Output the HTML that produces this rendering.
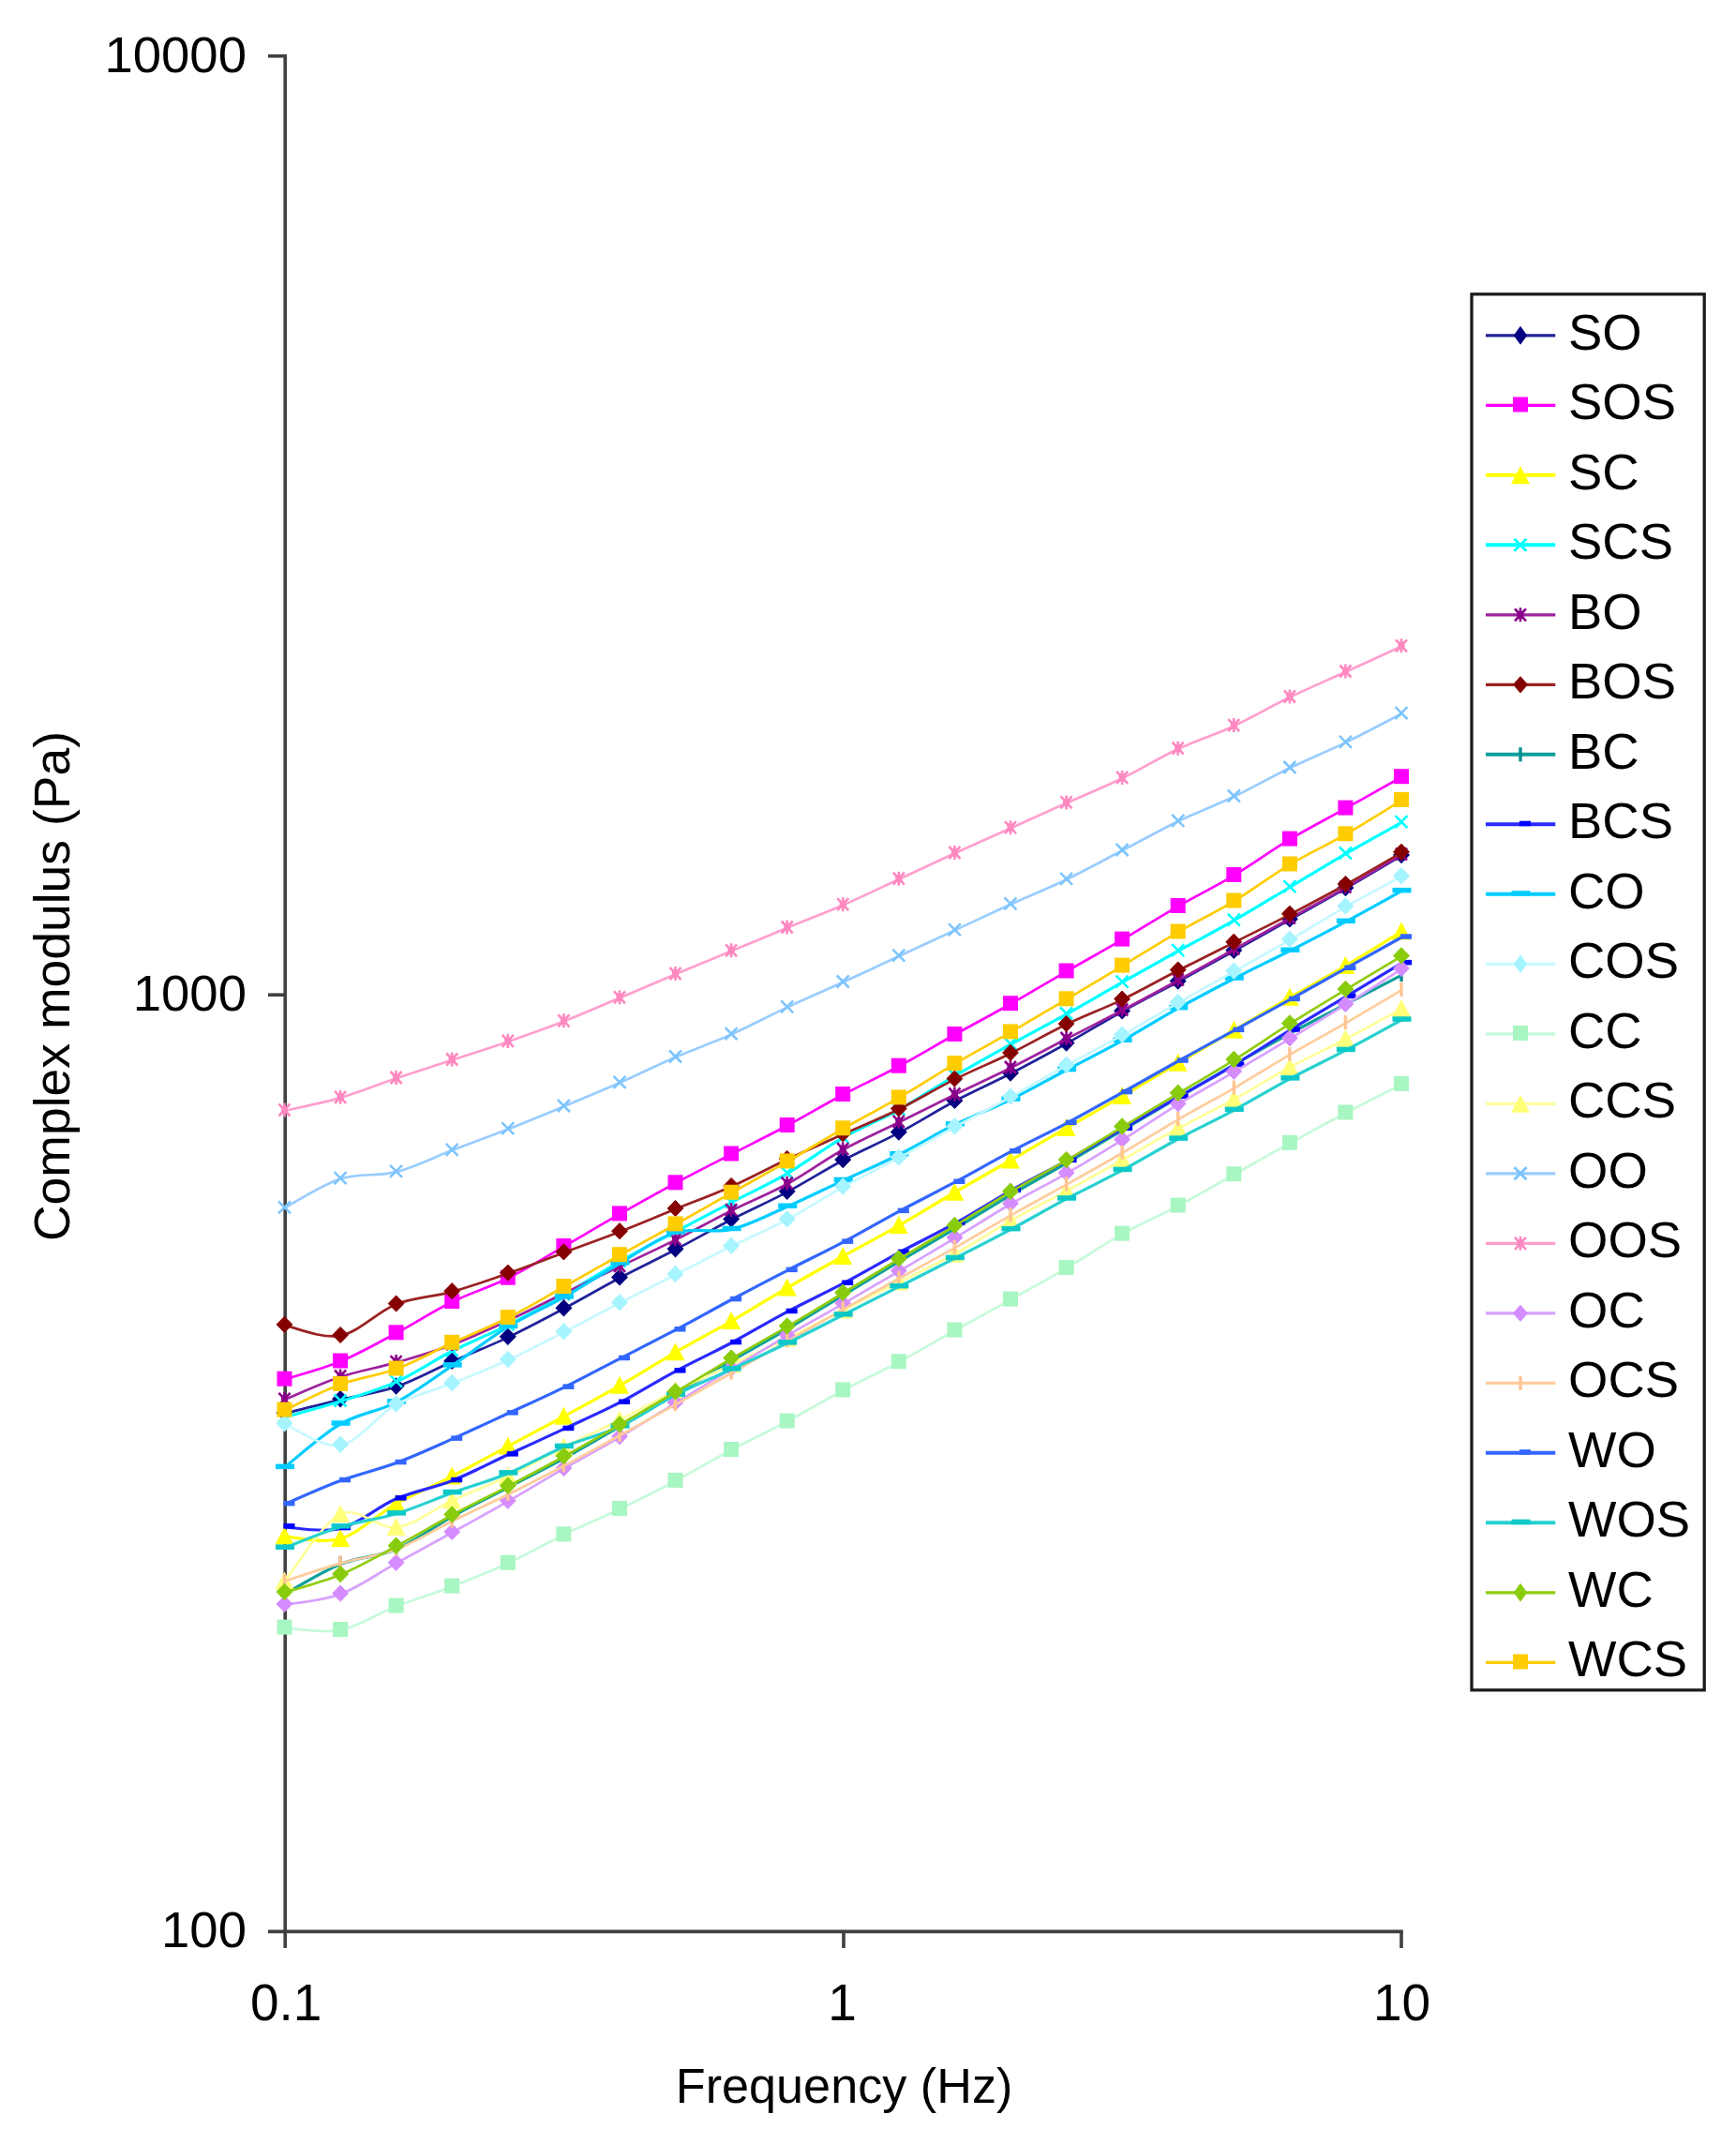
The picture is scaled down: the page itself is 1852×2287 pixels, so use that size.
<!DOCTYPE html>
<html lang="en"><head><meta charset="utf-8"><title>Complex modulus vs frequency</title>
<style>html,body{margin:0;padding:0;background:#fff}body{width:1852px;height:2287px;overflow:hidden}svg{display:block}text{font-family:"Liberation Sans", Arial, Helvetica, sans-serif;font-size:54.5px;fill:#000}</style>
</head><body>
<svg width="1852" height="2287" viewBox="0 0 1852 2287">
<rect width="1852" height="2287" fill="#fff"/>
<g stroke="#404040" stroke-width="3.6" fill="none">
<path d="M304.2,58 V2078"/>
<path d="M286,2060.4 H1496.8"/>
<path d="M286,59.8 H304.2"/>
<path d="M286,1061.2 H304.2"/>
<path d="M900,2060.4 V2078"/>
<path d="M1495,2060.4 V2078"/>
</g>
<defs><filter id="soft" x="0" y="0" width="1852" height="2287" filterUnits="userSpaceOnUse"><feGaussianBlur stdDeviation="0.65"/></filter></defs>
<g fill="none" stroke-linejoin="round" stroke-linecap="butt" filter="url(#soft)">
<g>
<path d="M303.5,1507.8C313.4,1505.3 343.2,1497.8 363.1,1493.1C382.9,1488.3 402.8,1486.1 422.6,1479.3C442.5,1472.5 462.4,1461.3 482.2,1452.5C502.1,1443.7 521.9,1436 541.8,1426.6C561.7,1417.2 581.5,1406.6 601.4,1396C621.2,1385.4 641.1,1373.7 661,1363.2C680.8,1352.7 700.7,1343.4 720.5,1333C740.4,1322.6 760.2,1311.2 780.1,1301C800,1290.8 819.8,1282.1 839.7,1271.6C859.5,1261.1 879.4,1248.3 899.2,1237.8C919.1,1227.3 939,1218.9 958.8,1208.4C978.7,1197.9 998.5,1185.2 1018.4,1174.7C1038.3,1164.2 1058.1,1155.5 1078,1145.3C1097.8,1135.1 1117.7,1124.3 1137.6,1113.3C1157.4,1102.2 1177.3,1090 1197.1,1079C1217,1068 1236.8,1058 1256.7,1047.3C1276.6,1036.5 1296.4,1025.5 1316.3,1014.5C1336.1,1003.5 1356,992.2 1375.9,981.1C1395.7,970 1415.6,959.2 1435.4,947.8C1455.3,936.4 1485.1,918.6 1495,912.8" stroke="#20209A" stroke-width="2.7" fill="none"/>
<path d="M303.5,1497.8 l9.0,9.2 l-9.0,9.2 l-9.0,-9.2z" fill="#000080"/>
<path d="M363.1,1483.1 l9.0,9.2 l-9.0,9.2 l-9.0,-9.2z" fill="#000080"/>
<path d="M422.6,1469.3 l9.0,9.2 l-9.0,9.2 l-9.0,-9.2z" fill="#000080"/>
<path d="M482.2,1442.5 l9.0,9.2 l-9.0,9.2 l-9.0,-9.2z" fill="#000080"/>
<path d="M541.8,1416.6 l9.0,9.2 l-9.0,9.2 l-9.0,-9.2z" fill="#000080"/>
<path d="M601.4,1386 l9.0,9.2 l-9.0,9.2 l-9.0,-9.2z" fill="#000080"/>
<path d="M661,1353.2 l9.0,9.2 l-9.0,9.2 l-9.0,-9.2z" fill="#000080"/>
<path d="M720.5,1323 l9.0,9.2 l-9.0,9.2 l-9.0,-9.2z" fill="#000080"/>
<path d="M780.1,1291 l9.0,9.2 l-9.0,9.2 l-9.0,-9.2z" fill="#000080"/>
<path d="M839.7,1261.6 l9.0,9.2 l-9.0,9.2 l-9.0,-9.2z" fill="#000080"/>
<path d="M899.2,1227.8 l9.0,9.2 l-9.0,9.2 l-9.0,-9.2z" fill="#000080"/>
<path d="M958.8,1198.4 l9.0,9.2 l-9.0,9.2 l-9.0,-9.2z" fill="#000080"/>
<path d="M1018.4,1164.7 l9.0,9.2 l-9.0,9.2 l-9.0,-9.2z" fill="#000080"/>
<path d="M1078,1135.3 l9.0,9.2 l-9.0,9.2 l-9.0,-9.2z" fill="#000080"/>
<path d="M1137.6,1103.3 l9.0,9.2 l-9.0,9.2 l-9.0,-9.2z" fill="#000080"/>
<path d="M1197.1,1069 l9.0,9.2 l-9.0,9.2 l-9.0,-9.2z" fill="#000080"/>
<path d="M1256.7,1037.3 l9.0,9.2 l-9.0,9.2 l-9.0,-9.2z" fill="#000080"/>
<path d="M1316.3,1004.5 l9.0,9.2 l-9.0,9.2 l-9.0,-9.2z" fill="#000080"/>
<path d="M1375.9,971.1 l9.0,9.2 l-9.0,9.2 l-9.0,-9.2z" fill="#000080"/>
<path d="M1435.4,937.8 l9.0,9.2 l-9.0,9.2 l-9.0,-9.2z" fill="#000080"/>
<path d="M1495,902.8 l9.0,9.2 l-9.0,9.2 l-9.0,-9.2z" fill="#000080"/>
</g>
<g>
<path d="M303.5,1471.5C313.4,1468.3 343.2,1460.5 363.1,1452.3C382.9,1444.1 402.8,1432.7 422.6,1422.1C442.5,1411.5 462.4,1398.6 482.2,1388.8C502.1,1379 521.9,1373.3 541.8,1363.5C561.7,1353.7 581.5,1341.2 601.4,1329.8C621.2,1318.4 641.1,1306.5 661,1295.2C680.8,1283.9 700.7,1272.8 720.5,1262.1C740.4,1251.4 760.2,1241.5 780.1,1231.3C800,1221.1 819.8,1211.4 839.7,1200.8C859.5,1190.2 879.4,1178.3 899.2,1167.8C919.1,1157.2 939,1148.2 958.8,1137.5C978.7,1126.8 998.5,1114.9 1018.4,1103.8C1038.3,1092.7 1058.1,1082.2 1078,1071C1097.8,1059.8 1117.7,1047.7 1137.6,1036.3C1157.4,1024.9 1177.3,1014 1197.1,1002.4C1217,990.8 1236.8,978.2 1256.7,966.8C1276.6,955.4 1296.4,945.7 1316.3,933.8C1336.1,921.9 1356,907.3 1375.9,895.4C1395.7,883.5 1415.6,873.5 1435.4,862.4C1455.3,851.3 1485.1,834.6 1495,829" stroke="#FF00FF" stroke-width="2.7" fill="none"/>
<rect x="295.5" y="1462.7" width="16" height="16" fill="#FF00FF"/>
<rect x="355.1" y="1443.5" width="16" height="16" fill="#FF00FF"/>
<rect x="414.6" y="1413.3" width="16" height="16" fill="#FF00FF"/>
<rect x="474.2" y="1380" width="16" height="16" fill="#FF00FF"/>
<rect x="533.8" y="1354.7" width="16" height="16" fill="#FF00FF"/>
<rect x="593.4" y="1321" width="16" height="16" fill="#FF00FF"/>
<rect x="653" y="1286.4" width="16" height="16" fill="#FF00FF"/>
<rect x="712.5" y="1253.3" width="16" height="16" fill="#FF00FF"/>
<rect x="772.1" y="1222.5" width="16" height="16" fill="#FF00FF"/>
<rect x="831.7" y="1192" width="16" height="16" fill="#FF00FF"/>
<rect x="891.2" y="1159" width="16" height="16" fill="#FF00FF"/>
<rect x="950.8" y="1128.7" width="16" height="16" fill="#FF00FF"/>
<rect x="1010.4" y="1095" width="16" height="16" fill="#FF00FF"/>
<rect x="1070" y="1062.2" width="16" height="16" fill="#FF00FF"/>
<rect x="1129.6" y="1027.5" width="16" height="16" fill="#FF00FF"/>
<rect x="1189.1" y="993.6" width="16" height="16" fill="#FF00FF"/>
<rect x="1248.7" y="958" width="16" height="16" fill="#FF00FF"/>
<rect x="1308.3" y="925" width="16" height="16" fill="#FF00FF"/>
<rect x="1367.9" y="886.6" width="16" height="16" fill="#FF00FF"/>
<rect x="1427.4" y="853.6" width="16" height="16" fill="#FF00FF"/>
<rect x="1487" y="820.2" width="16" height="16" fill="#FF00FF"/>
</g>
<g>
<path d="M303.5,1638.8C313.4,1639.2 343.2,1647.1 363.1,1641.3C382.9,1635.5 402.8,1615.3 422.6,1604.2C442.5,1593.1 462.4,1585 482.2,1574.8C502.1,1564.6 521.9,1553.4 541.8,1542.8C561.7,1532.2 581.5,1521.8 601.4,1511C621.2,1500.2 641.1,1489.5 661,1478.1C680.8,1466.7 700.7,1454.1 720.5,1442.6C740.4,1431.1 760.2,1420.8 780.1,1409.3C800,1397.8 819.8,1385.3 839.7,1373.8C859.5,1362.3 879.4,1351.3 899.2,1340.2C919.1,1329.1 939,1318.8 958.8,1307.4C978.7,1296 998.5,1283.6 1018.4,1272C1038.3,1260.4 1058.1,1249.2 1078,1237.8C1097.8,1226.3 1117.7,1214.7 1137.6,1203.3C1157.4,1191.9 1177.3,1180.9 1197.1,1169.4C1217,1157.9 1236.8,1145.8 1256.7,1134.1C1276.6,1122.4 1296.4,1110.8 1316.3,1099.1C1336.1,1087.4 1356,1075.6 1375.9,1064.1C1395.7,1052.6 1415.6,1042 1435.4,1030.3C1455.3,1018.6 1485.1,999.9 1495,993.8" stroke="#FFFF00" stroke-width="3.2" fill="none"/>
<path d="M303.5,1628.5 l10,19 h-20z" fill="#FFFF00"/>
<path d="M363.1,1631 l10,19 h-20z" fill="#FFFF00"/>
<path d="M422.6,1593.9 l10,19 h-20z" fill="#FFFF00"/>
<path d="M482.2,1564.5 l10,19 h-20z" fill="#FFFF00"/>
<path d="M541.8,1532.5 l10,19 h-20z" fill="#FFFF00"/>
<path d="M601.4,1500.7 l10,19 h-20z" fill="#FFFF00"/>
<path d="M661,1467.8 l10,19 h-20z" fill="#FFFF00"/>
<path d="M720.5,1432.3 l10,19 h-20z" fill="#FFFF00"/>
<path d="M780.1,1399 l10,19 h-20z" fill="#FFFF00"/>
<path d="M839.7,1363.5 l10,19 h-20z" fill="#FFFF00"/>
<path d="M899.2,1329.9 l10,19 h-20z" fill="#FFFF00"/>
<path d="M958.8,1297.1 l10,19 h-20z" fill="#FFFF00"/>
<path d="M1018.4,1261.7 l10,19 h-20z" fill="#FFFF00"/>
<path d="M1078,1227.5 l10,19 h-20z" fill="#FFFF00"/>
<path d="M1137.6,1193 l10,19 h-20z" fill="#FFFF00"/>
<path d="M1197.1,1159.1 l10,19 h-20z" fill="#FFFF00"/>
<path d="M1256.7,1123.8 l10,19 h-20z" fill="#FFFF00"/>
<path d="M1316.3,1088.8 l10,19 h-20z" fill="#FFFF00"/>
<path d="M1375.9,1053.8 l10,19 h-20z" fill="#FFFF00"/>
<path d="M1435.4,1020 l10,19 h-20z" fill="#FFFF00"/>
<path d="M1495,983.5 l10,19 h-20z" fill="#FFFF00"/>
</g>
<g>
<path d="M303.5,1511.8C313.4,1509 343.2,1501.1 363.1,1494.8C382.9,1488.5 402.8,1483 422.6,1474.1C442.5,1465.2 462.4,1451.4 482.2,1441.3C502.1,1431.2 521.9,1423.6 541.8,1413.6C561.7,1403.6 581.5,1392.7 601.4,1381.4C621.2,1370.1 641.1,1357.1 661,1345.8C680.8,1334.5 700.7,1324.3 720.5,1313.8C740.4,1303.3 760.2,1293.1 780.1,1282.8C800,1272.5 819.8,1263.3 839.7,1251.8C859.5,1240.3 879.4,1224.9 899.2,1213.6C919.1,1202.3 939,1194.8 958.8,1183.8C978.7,1172.8 998.5,1159.4 1018.4,1147.8C1038.3,1136.2 1058.1,1125.2 1078,1114.2C1097.8,1103.2 1117.7,1092.8 1137.6,1081.8C1157.4,1070.8 1177.3,1059.1 1197.1,1047.9C1217,1036.7 1236.8,1025.5 1256.7,1014.5C1276.6,1003.5 1296.4,993.3 1316.3,982C1336.1,970.7 1356,958.4 1375.9,946.5C1395.7,934.6 1415.6,922.3 1435.4,910.8C1455.3,899.3 1485.1,883 1495,877.4" stroke="#00FFFF" stroke-width="3.2" fill="none"/>
<path d="M297,1504.5 l13,13 m0,-13 l-13,13" stroke="#00FFFF" stroke-width="2.5" fill="none"/>
<path d="M356.6,1487.5 l13,13 m0,-13 l-13,13" stroke="#00FFFF" stroke-width="2.5" fill="none"/>
<path d="M416.1,1466.8 l13,13 m0,-13 l-13,13" stroke="#00FFFF" stroke-width="2.5" fill="none"/>
<path d="M475.7,1434 l13,13 m0,-13 l-13,13" stroke="#00FFFF" stroke-width="2.5" fill="none"/>
<path d="M535.3,1406.3 l13,13 m0,-13 l-13,13" stroke="#00FFFF" stroke-width="2.5" fill="none"/>
<path d="M594.9,1374.1 l13,13 m0,-13 l-13,13" stroke="#00FFFF" stroke-width="2.5" fill="none"/>
<path d="M654.5,1338.5 l13,13 m0,-13 l-13,13" stroke="#00FFFF" stroke-width="2.5" fill="none"/>
<path d="M714,1306.5 l13,13 m0,-13 l-13,13" stroke="#00FFFF" stroke-width="2.5" fill="none"/>
<path d="M773.6,1275.5 l13,13 m0,-13 l-13,13" stroke="#00FFFF" stroke-width="2.5" fill="none"/>
<path d="M833.2,1244.5 l13,13 m0,-13 l-13,13" stroke="#00FFFF" stroke-width="2.5" fill="none"/>
<path d="M892.7,1206.3 l13,13 m0,-13 l-13,13" stroke="#00FFFF" stroke-width="2.5" fill="none"/>
<path d="M952.3,1176.5 l13,13 m0,-13 l-13,13" stroke="#00FFFF" stroke-width="2.5" fill="none"/>
<path d="M1011.9,1140.5 l13,13 m0,-13 l-13,13" stroke="#00FFFF" stroke-width="2.5" fill="none"/>
<path d="M1071.5,1106.9 l13,13 m0,-13 l-13,13" stroke="#00FFFF" stroke-width="2.5" fill="none"/>
<path d="M1131.1,1074.5 l13,13 m0,-13 l-13,13" stroke="#00FFFF" stroke-width="2.5" fill="none"/>
<path d="M1190.6,1040.6 l13,13 m0,-13 l-13,13" stroke="#00FFFF" stroke-width="2.5" fill="none"/>
<path d="M1250.2,1007.2 l13,13 m0,-13 l-13,13" stroke="#00FFFF" stroke-width="2.5" fill="none"/>
<path d="M1309.8,974.7 l13,13 m0,-13 l-13,13" stroke="#00FFFF" stroke-width="2.5" fill="none"/>
<path d="M1369.4,939.2 l13,13 m0,-13 l-13,13" stroke="#00FFFF" stroke-width="2.5" fill="none"/>
<path d="M1428.9,903.5 l13,13 m0,-13 l-13,13" stroke="#00FFFF" stroke-width="2.5" fill="none"/>
<path d="M1488.5,870.1 l13,13 m0,-13 l-13,13" stroke="#00FFFF" stroke-width="2.5" fill="none"/>
</g>
<g>
<path d="M303.5,1493.1C313.4,1489 343.2,1475.4 363.1,1468.8C382.9,1462.2 402.8,1459.1 422.6,1453.4C442.5,1447.7 462.4,1441.8 482.2,1434.4C502.1,1427 521.9,1417.9 541.8,1408.8C561.7,1399.7 581.5,1389.4 601.4,1379.8C621.2,1370.2 641.1,1360.6 661,1351.1C680.8,1341.6 700.7,1332.5 720.5,1322.6C740.4,1312.7 760.2,1301.4 780.1,1291.5C800,1281.6 819.8,1273.8 839.7,1263C859.5,1252.2 879.4,1237.5 899.2,1226.5C919.1,1215.5 939,1207 958.8,1197.2C978.7,1187.4 998.5,1177.5 1018.4,1167.8C1038.3,1158.1 1058.1,1149.2 1078,1139.3C1097.8,1129.4 1117.7,1118.5 1137.6,1108.3C1157.4,1098 1177.3,1088.2 1197.1,1077.8C1217,1067.4 1236.8,1056.6 1256.7,1045.8C1276.6,1035 1296.4,1023.8 1316.3,1012.8C1336.1,1001.8 1356,990.8 1375.9,979.8C1395.7,968.8 1415.6,958.1 1435.4,946.8C1455.3,935.5 1485.1,917.6 1495,911.8" stroke="#9E209E" stroke-width="2.7" fill="none"/>
<path d="M297.5,1485.8 l12,13 m0,-13 l-12,13 M303.5,1484.8 v15" stroke="#8A008A" stroke-width="2.6" fill="none"/><rect x="300" y="1488.3" width="7" height="8" fill="#8A008A"/>
<path d="M357.1,1461.5 l12,13 m0,-13 l-12,13 M363.1,1460.5 v15" stroke="#8A008A" stroke-width="2.6" fill="none"/><rect x="359.6" y="1464" width="7" height="8" fill="#8A008A"/>
<path d="M416.6,1446.1 l12,13 m0,-13 l-12,13 M422.6,1445.1 v15" stroke="#8A008A" stroke-width="2.6" fill="none"/><rect x="419.1" y="1448.6" width="7" height="8" fill="#8A008A"/>
<path d="M476.2,1427.1 l12,13 m0,-13 l-12,13 M482.2,1426.1 v15" stroke="#8A008A" stroke-width="2.6" fill="none"/><rect x="478.7" y="1429.6" width="7" height="8" fill="#8A008A"/>
<path d="M535.8,1401.5 l12,13 m0,-13 l-12,13 M541.8,1400.5 v15" stroke="#8A008A" stroke-width="2.6" fill="none"/><rect x="538.3" y="1404" width="7" height="8" fill="#8A008A"/>
<path d="M595.4,1372.5 l12,13 m0,-13 l-12,13 M601.4,1371.5 v15" stroke="#8A008A" stroke-width="2.6" fill="none"/><rect x="597.9" y="1375" width="7" height="8" fill="#8A008A"/>
<path d="M655,1343.8 l12,13 m0,-13 l-12,13 M661,1342.8 v15" stroke="#8A008A" stroke-width="2.6" fill="none"/><rect x="657.5" y="1346.3" width="7" height="8" fill="#8A008A"/>
<path d="M714.5,1315.3 l12,13 m0,-13 l-12,13 M720.5,1314.3 v15" stroke="#8A008A" stroke-width="2.6" fill="none"/><rect x="717" y="1317.8" width="7" height="8" fill="#8A008A"/>
<path d="M774.1,1284.2 l12,13 m0,-13 l-12,13 M780.1,1283.2 v15" stroke="#8A008A" stroke-width="2.6" fill="none"/><rect x="776.6" y="1286.7" width="7" height="8" fill="#8A008A"/>
<path d="M833.7,1255.7 l12,13 m0,-13 l-12,13 M839.7,1254.7 v15" stroke="#8A008A" stroke-width="2.6" fill="none"/><rect x="836.2" y="1258.2" width="7" height="8" fill="#8A008A"/>
<path d="M893.2,1219.2 l12,13 m0,-13 l-12,13 M899.2,1218.2 v15" stroke="#8A008A" stroke-width="2.6" fill="none"/><rect x="895.7" y="1221.7" width="7" height="8" fill="#8A008A"/>
<path d="M952.8,1189.9 l12,13 m0,-13 l-12,13 M958.8,1188.9 v15" stroke="#8A008A" stroke-width="2.6" fill="none"/><rect x="955.3" y="1192.4" width="7" height="8" fill="#8A008A"/>
<path d="M1012.4,1160.5 l12,13 m0,-13 l-12,13 M1018.4,1159.5 v15" stroke="#8A008A" stroke-width="2.6" fill="none"/><rect x="1014.9" y="1163" width="7" height="8" fill="#8A008A"/>
<path d="M1072,1132 l12,13 m0,-13 l-12,13 M1078,1131 v15" stroke="#8A008A" stroke-width="2.6" fill="none"/><rect x="1074.5" y="1134.5" width="7" height="8" fill="#8A008A"/>
<path d="M1131.6,1101 l12,13 m0,-13 l-12,13 M1137.6,1100 v15" stroke="#8A008A" stroke-width="2.6" fill="none"/><rect x="1134.1" y="1103.5" width="7" height="8" fill="#8A008A"/>
<path d="M1191.1,1070.5 l12,13 m0,-13 l-12,13 M1197.1,1069.5 v15" stroke="#8A008A" stroke-width="2.6" fill="none"/><rect x="1193.6" y="1073" width="7" height="8" fill="#8A008A"/>
<path d="M1250.7,1038.5 l12,13 m0,-13 l-12,13 M1256.7,1037.5 v15" stroke="#8A008A" stroke-width="2.6" fill="none"/><rect x="1253.2" y="1041" width="7" height="8" fill="#8A008A"/>
<path d="M1310.3,1005.5 l12,13 m0,-13 l-12,13 M1316.3,1004.5 v15" stroke="#8A008A" stroke-width="2.6" fill="none"/><rect x="1312.8" y="1008" width="7" height="8" fill="#8A008A"/>
<path d="M1369.9,972.5 l12,13 m0,-13 l-12,13 M1375.9,971.5 v15" stroke="#8A008A" stroke-width="2.6" fill="none"/><rect x="1372.4" y="975" width="7" height="8" fill="#8A008A"/>
<path d="M1429.4,939.5 l12,13 m0,-13 l-12,13 M1435.4,938.5 v15" stroke="#8A008A" stroke-width="2.6" fill="none"/><rect x="1431.9" y="942" width="7" height="8" fill="#8A008A"/>
<path d="M1489,904.5 l12,13 m0,-13 l-12,13 M1495,903.5 v15" stroke="#8A008A" stroke-width="2.6" fill="none"/><rect x="1491.5" y="907" width="7" height="8" fill="#8A008A"/>
</g>
<g>
<path d="M303.5,1413.6C313.4,1415.5 343.2,1428.5 363.1,1424.8C382.9,1421.1 402.8,1399.1 422.6,1391.3C442.5,1383.5 462.4,1383.5 482.2,1378C502.1,1372.5 521.9,1365.4 541.8,1358.4C561.7,1351.4 581.5,1343.6 601.4,1336.2C621.2,1328.8 641.1,1321.7 661,1314C680.8,1306.3 700.7,1297.8 720.5,1289.8C740.4,1281.8 760.2,1274.6 780.1,1265.8C800,1257 819.8,1246.1 839.7,1236.8C859.5,1227.5 879.4,1219 899.2,1210.1C919.1,1201.2 939,1193.1 958.8,1183.3C978.7,1173.5 998.5,1161.3 1018.4,1151.4C1038.3,1141.5 1058.1,1133.5 1078,1123.7C1097.8,1113.9 1117.7,1102.3 1137.6,1092.8C1157.4,1083.2 1177.3,1076 1197.1,1066.4C1217,1056.8 1236.8,1045.4 1256.7,1035.3C1276.6,1025.2 1296.4,1015.5 1316.3,1005.5C1336.1,995.5 1356,985.9 1375.9,975.6C1395.7,965.3 1415.6,954.8 1435.4,943.8C1455.3,932.8 1485.1,915.3 1495,909.6" stroke="#9A2020" stroke-width="2.7" fill="none"/>
<path d="M303.5,1404.2 l8.4,8.6 l-8.4,8.6 l-8.4,-8.6z" fill="#850000" stroke="#850000" stroke-width="1" stroke-linejoin="round"/>
<path d="M363.1,1415.4 l8.4,8.6 l-8.4,8.6 l-8.4,-8.6z" fill="#850000" stroke="#850000" stroke-width="1" stroke-linejoin="round"/>
<path d="M422.6,1381.9 l8.4,8.6 l-8.4,8.6 l-8.4,-8.6z" fill="#850000" stroke="#850000" stroke-width="1" stroke-linejoin="round"/>
<path d="M482.2,1368.6 l8.4,8.6 l-8.4,8.6 l-8.4,-8.6z" fill="#850000" stroke="#850000" stroke-width="1" stroke-linejoin="round"/>
<path d="M541.8,1349 l8.4,8.6 l-8.4,8.6 l-8.4,-8.6z" fill="#850000" stroke="#850000" stroke-width="1" stroke-linejoin="round"/>
<path d="M601.4,1326.8 l8.4,8.6 l-8.4,8.6 l-8.4,-8.6z" fill="#850000" stroke="#850000" stroke-width="1" stroke-linejoin="round"/>
<path d="M661,1304.6 l8.4,8.6 l-8.4,8.6 l-8.4,-8.6z" fill="#850000" stroke="#850000" stroke-width="1" stroke-linejoin="round"/>
<path d="M720.5,1280.4 l8.4,8.6 l-8.4,8.6 l-8.4,-8.6z" fill="#850000" stroke="#850000" stroke-width="1" stroke-linejoin="round"/>
<path d="M780.1,1256.4 l8.4,8.6 l-8.4,8.6 l-8.4,-8.6z" fill="#850000" stroke="#850000" stroke-width="1" stroke-linejoin="round"/>
<path d="M839.7,1227.4 l8.4,8.6 l-8.4,8.6 l-8.4,-8.6z" fill="#850000" stroke="#850000" stroke-width="1" stroke-linejoin="round"/>
<path d="M899.2,1200.7 l8.4,8.6 l-8.4,8.6 l-8.4,-8.6z" fill="#850000" stroke="#850000" stroke-width="1" stroke-linejoin="round"/>
<path d="M958.8,1173.9 l8.4,8.6 l-8.4,8.6 l-8.4,-8.6z" fill="#850000" stroke="#850000" stroke-width="1" stroke-linejoin="round"/>
<path d="M1018.4,1142 l8.4,8.6 l-8.4,8.6 l-8.4,-8.6z" fill="#850000" stroke="#850000" stroke-width="1" stroke-linejoin="round"/>
<path d="M1078,1114.3 l8.4,8.6 l-8.4,8.6 l-8.4,-8.6z" fill="#850000" stroke="#850000" stroke-width="1" stroke-linejoin="round"/>
<path d="M1137.6,1083.4 l8.4,8.6 l-8.4,8.6 l-8.4,-8.6z" fill="#850000" stroke="#850000" stroke-width="1" stroke-linejoin="round"/>
<path d="M1197.1,1057 l8.4,8.6 l-8.4,8.6 l-8.4,-8.6z" fill="#850000" stroke="#850000" stroke-width="1" stroke-linejoin="round"/>
<path d="M1256.7,1025.9 l8.4,8.6 l-8.4,8.6 l-8.4,-8.6z" fill="#850000" stroke="#850000" stroke-width="1" stroke-linejoin="round"/>
<path d="M1316.3,996.1 l8.4,8.6 l-8.4,8.6 l-8.4,-8.6z" fill="#850000" stroke="#850000" stroke-width="1" stroke-linejoin="round"/>
<path d="M1375.9,966.2 l8.4,8.6 l-8.4,8.6 l-8.4,-8.6z" fill="#850000" stroke="#850000" stroke-width="1" stroke-linejoin="round"/>
<path d="M1435.4,934.4 l8.4,8.6 l-8.4,8.6 l-8.4,-8.6z" fill="#850000" stroke="#850000" stroke-width="1" stroke-linejoin="round"/>
<path d="M1495,900.2 l8.4,8.6 l-8.4,8.6 l-8.4,-8.6z" fill="#850000" stroke="#850000" stroke-width="1" stroke-linejoin="round"/>
</g>
<g>
<path d="M303.5,1700.5C313.4,1695.2 343.2,1676.5 363.1,1668.5C382.9,1660.5 402.8,1661.2 422.6,1652.8C442.5,1644.3 462.4,1628.8 482.2,1617.8C502.1,1606.8 521.9,1597.1 541.8,1586.8C561.7,1576.5 581.5,1566.6 601.4,1555.8C621.2,1545 641.1,1533.3 661,1521.8C680.8,1510.3 700.7,1498.5 720.5,1486.8C740.4,1475.1 760.2,1463.3 780.1,1451.8C800,1440.3 819.8,1429.5 839.7,1417.8C859.5,1406.1 879.4,1393.8 899.2,1381.8C919.1,1369.8 939,1357.6 958.8,1345.8C978.7,1334 998.5,1322.6 1018.4,1310.8C1038.3,1299 1058.1,1286.5 1078,1274.8C1097.8,1263.1 1117.7,1252.3 1137.6,1240.8C1157.4,1229.3 1177.3,1217.5 1197.1,1205.8C1217,1194.1 1236.8,1182.5 1256.7,1170.8C1276.6,1159.1 1296.4,1147.2 1316.3,1135.8C1336.1,1124.4 1356,1113.2 1375.9,1102.5C1395.7,1091.8 1415.6,1081.8 1435.4,1071.4C1455.3,1061 1485.1,1045.5 1495,1040.3" stroke="#10A09C" stroke-width="3.2" fill="none"/>
<path d="M303.5,1692.2 v15" stroke="#009090" stroke-width="3.4" fill="none"/>
<path d="M363.1,1660.2 v15" stroke="#009090" stroke-width="3.4" fill="none"/>
<path d="M422.6,1644.5 v15" stroke="#009090" stroke-width="3.4" fill="none"/>
<path d="M482.2,1609.5 v15" stroke="#009090" stroke-width="3.4" fill="none"/>
<path d="M541.8,1578.5 v15" stroke="#009090" stroke-width="3.4" fill="none"/>
<path d="M601.4,1547.5 v15" stroke="#009090" stroke-width="3.4" fill="none"/>
<path d="M661,1513.5 v15" stroke="#009090" stroke-width="3.4" fill="none"/>
<path d="M720.5,1478.5 v15" stroke="#009090" stroke-width="3.4" fill="none"/>
<path d="M780.1,1443.5 v15" stroke="#009090" stroke-width="3.4" fill="none"/>
<path d="M839.7,1409.5 v15" stroke="#009090" stroke-width="3.4" fill="none"/>
<path d="M899.2,1373.5 v15" stroke="#009090" stroke-width="3.4" fill="none"/>
<path d="M958.8,1337.5 v15" stroke="#009090" stroke-width="3.4" fill="none"/>
<path d="M1018.4,1302.5 v15" stroke="#009090" stroke-width="3.4" fill="none"/>
<path d="M1078,1266.5 v15" stroke="#009090" stroke-width="3.4" fill="none"/>
<path d="M1137.6,1232.5 v15" stroke="#009090" stroke-width="3.4" fill="none"/>
<path d="M1197.1,1197.5 v15" stroke="#009090" stroke-width="3.4" fill="none"/>
<path d="M1256.7,1162.5 v15" stroke="#009090" stroke-width="3.4" fill="none"/>
<path d="M1316.3,1127.5 v15" stroke="#009090" stroke-width="3.4" fill="none"/>
<path d="M1375.9,1094.2 v15" stroke="#009090" stroke-width="3.4" fill="none"/>
<path d="M1435.4,1063.1 v15" stroke="#009090" stroke-width="3.4" fill="none"/>
<path d="M1495,1032 v15" stroke="#009090" stroke-width="3.4" fill="none"/>
</g>
<g>
<path d="M303.5,1628.8C313.4,1629.1 343.2,1635.5 363.1,1630.5C382.9,1625.5 402.8,1607.3 422.6,1598.8C442.5,1590.3 462.4,1587.3 482.2,1579.5C502.1,1571.7 521.9,1561 541.8,1551.8C561.7,1542.6 581.5,1533.7 601.4,1524.4C621.2,1515.1 641.1,1506.5 661,1496.2C680.8,1485.9 700.7,1473.4 720.5,1462.8C740.4,1452.2 760.2,1443.1 780.1,1432.5C800,1421.9 819.8,1409.9 839.7,1399.4C859.5,1388.8 879.4,1379.7 899.2,1369.2C919.1,1358.7 939,1347 958.8,1336.3C978.7,1325.6 998.5,1316.2 1018.4,1305.2C1038.3,1294.2 1058.1,1281.5 1078,1270.3C1097.8,1259.1 1117.7,1249.3 1137.6,1238.3C1157.4,1227.3 1177.3,1215.6 1197.1,1204.3C1217,1193 1236.8,1181.6 1256.7,1170.3C1276.6,1159 1296.4,1148.2 1316.3,1136.3C1336.1,1124.4 1356,1111.2 1375.9,1099C1395.7,1086.8 1415.6,1075.2 1435.4,1063.3C1455.3,1051.4 1485.1,1033.5 1495,1027.6" stroke="#2A2AFF" stroke-width="3.2" fill="none"/>
<rect x="302.5" y="1625.1" width="12" height="5.5" fill="#0000FF"/>
<rect x="362.1" y="1626.8" width="12" height="5.5" fill="#0000FF"/>
<rect x="421.6" y="1595.1" width="12" height="5.5" fill="#0000FF"/>
<rect x="481.2" y="1575.8" width="12" height="5.5" fill="#0000FF"/>
<rect x="540.8" y="1548.1" width="12" height="5.5" fill="#0000FF"/>
<rect x="600.4" y="1520.7" width="12" height="5.5" fill="#0000FF"/>
<rect x="660" y="1492.5" width="12" height="5.5" fill="#0000FF"/>
<rect x="719.5" y="1459.1" width="12" height="5.5" fill="#0000FF"/>
<rect x="779.1" y="1428.8" width="12" height="5.5" fill="#0000FF"/>
<rect x="838.7" y="1395.7" width="12" height="5.5" fill="#0000FF"/>
<rect x="898.2" y="1365.5" width="12" height="5.5" fill="#0000FF"/>
<rect x="957.8" y="1332.6" width="12" height="5.5" fill="#0000FF"/>
<rect x="1017.4" y="1301.5" width="12" height="5.5" fill="#0000FF"/>
<rect x="1077" y="1266.6" width="12" height="5.5" fill="#0000FF"/>
<rect x="1136.6" y="1234.6" width="12" height="5.5" fill="#0000FF"/>
<rect x="1196.1" y="1200.6" width="12" height="5.5" fill="#0000FF"/>
<rect x="1255.7" y="1166.6" width="12" height="5.5" fill="#0000FF"/>
<rect x="1315.3" y="1132.6" width="12" height="5.5" fill="#0000FF"/>
<rect x="1374.9" y="1095.3" width="12" height="5.5" fill="#0000FF"/>
<rect x="1434.4" y="1059.6" width="12" height="5.5" fill="#0000FF"/>
<rect x="1494" y="1023.9" width="12" height="5.5" fill="#0000FF"/>
</g>
<g>
<path d="M303.5,1565.3C313.4,1557.6 343.2,1530.6 363.1,1519C382.9,1507.4 402.8,1506.2 422.6,1495.8C442.5,1485.4 462.4,1470.2 482.2,1456.8C502.1,1443.4 521.9,1427.6 541.8,1415.4C561.7,1403.2 581.5,1395.1 601.4,1383.8C621.2,1372.5 641.1,1359.3 661,1347.8C680.8,1336.3 700.7,1320.9 720.5,1314.8C740.4,1308.7 760.2,1316 780.1,1311.4C800,1306.8 819.8,1295.9 839.7,1287.2C859.5,1278.5 879.4,1268.6 899.2,1259.4C919.1,1250.1 939,1241.6 958.8,1231.7C978.7,1221.8 998.5,1209.6 1018.4,1199.8C1038.3,1190 1058.1,1182.7 1078,1173C1097.8,1163.3 1117.7,1152 1137.6,1141.5C1157.4,1131 1177.3,1121.2 1197.1,1110.2C1217,1099.2 1236.8,1086.6 1256.7,1075.6C1276.6,1064.6 1296.4,1054.2 1316.3,1044C1336.1,1033.8 1356,1024.3 1375.9,1014.2C1395.7,1004.1 1415.6,993.9 1435.4,983.3C1455.3,972.7 1485.1,956 1495,950.6" stroke="#00CCFF" stroke-width="3.2" fill="none"/>
<rect x="294" y="1561.6" width="20" height="5.5" fill="#00CCFF"/>
<rect x="353.6" y="1515.3" width="20" height="5.5" fill="#00CCFF"/>
<rect x="413.1" y="1492.1" width="20" height="5.5" fill="#00CCFF"/>
<rect x="472.7" y="1453.1" width="20" height="5.5" fill="#00CCFF"/>
<rect x="532.3" y="1411.7" width="20" height="5.5" fill="#00CCFF"/>
<rect x="591.9" y="1380.1" width="20" height="5.5" fill="#00CCFF"/>
<rect x="651.5" y="1344.1" width="20" height="5.5" fill="#00CCFF"/>
<rect x="711" y="1311.1" width="20" height="5.5" fill="#00CCFF"/>
<rect x="770.6" y="1307.7" width="20" height="5.5" fill="#00CCFF"/>
<rect x="830.2" y="1283.5" width="20" height="5.5" fill="#00CCFF"/>
<rect x="889.7" y="1255.7" width="20" height="5.5" fill="#00CCFF"/>
<rect x="949.3" y="1228" width="20" height="5.5" fill="#00CCFF"/>
<rect x="1008.9" y="1196.1" width="20" height="5.5" fill="#00CCFF"/>
<rect x="1068.5" y="1169.3" width="20" height="5.5" fill="#00CCFF"/>
<rect x="1128.1" y="1137.8" width="20" height="5.5" fill="#00CCFF"/>
<rect x="1187.6" y="1106.5" width="20" height="5.5" fill="#00CCFF"/>
<rect x="1247.2" y="1071.9" width="20" height="5.5" fill="#00CCFF"/>
<rect x="1306.8" y="1040.3" width="20" height="5.5" fill="#00CCFF"/>
<rect x="1366.4" y="1010.5" width="20" height="5.5" fill="#00CCFF"/>
<rect x="1425.9" y="979.6" width="20" height="5.5" fill="#00CCFF"/>
<rect x="1485.5" y="946.9" width="20" height="5.5" fill="#00CCFF"/>
</g>
<g>
<path d="M303.5,1519C313.4,1522.8 343.2,1545 363.1,1541.5C382.9,1538 402.8,1509.2 422.6,1498.3C442.5,1487.3 462.4,1483.7 482.2,1475.8C502.1,1467.9 521.9,1459.9 541.8,1450.8C561.7,1441.7 581.5,1431.2 601.4,1421.1C621.2,1411 641.1,1400.2 661,1390C680.8,1379.8 700.7,1369.9 720.5,1359.8C740.4,1349.7 760.2,1339.3 780.1,1329.5C800,1319.7 819.8,1311.5 839.7,1301C859.5,1290.5 879.4,1277.3 899.2,1266.3C919.1,1255.3 939,1245.9 958.8,1235.2C978.7,1224.5 998.5,1213.1 1018.4,1202.3C1038.3,1191.5 1058.1,1181.4 1078,1170.4C1097.8,1159.4 1117.7,1147.5 1137.6,1136.5C1157.4,1125.5 1177.3,1115.5 1197.1,1104.4C1217,1093.3 1236.8,1081.1 1256.7,1069.8C1276.6,1058.5 1296.4,1047.6 1316.3,1036.4C1336.1,1025.2 1356,1014.2 1375.9,1002.7C1395.7,991.2 1415.6,978.6 1435.4,967.3C1455.3,956 1485.1,940.4 1495,935" stroke="#C6F9FF" stroke-width="2.7" fill="none"/>
<path d="M303.5,1509 l9.0,9.2 l-9.0,9.2 l-9.0,-9.2z" fill="#A6F4FF"/>
<path d="M363.1,1531.5 l9.0,9.2 l-9.0,9.2 l-9.0,-9.2z" fill="#A6F4FF"/>
<path d="M422.6,1488.3 l9.0,9.2 l-9.0,9.2 l-9.0,-9.2z" fill="#A6F4FF"/>
<path d="M482.2,1465.8 l9.0,9.2 l-9.0,9.2 l-9.0,-9.2z" fill="#A6F4FF"/>
<path d="M541.8,1440.8 l9.0,9.2 l-9.0,9.2 l-9.0,-9.2z" fill="#A6F4FF"/>
<path d="M601.4,1411.1 l9.0,9.2 l-9.0,9.2 l-9.0,-9.2z" fill="#A6F4FF"/>
<path d="M661,1380 l9.0,9.2 l-9.0,9.2 l-9.0,-9.2z" fill="#A6F4FF"/>
<path d="M720.5,1349.8 l9.0,9.2 l-9.0,9.2 l-9.0,-9.2z" fill="#A6F4FF"/>
<path d="M780.1,1319.5 l9.0,9.2 l-9.0,9.2 l-9.0,-9.2z" fill="#A6F4FF"/>
<path d="M839.7,1291 l9.0,9.2 l-9.0,9.2 l-9.0,-9.2z" fill="#A6F4FF"/>
<path d="M899.2,1256.3 l9.0,9.2 l-9.0,9.2 l-9.0,-9.2z" fill="#A6F4FF"/>
<path d="M958.8,1225.2 l9.0,9.2 l-9.0,9.2 l-9.0,-9.2z" fill="#A6F4FF"/>
<path d="M1018.4,1192.3 l9.0,9.2 l-9.0,9.2 l-9.0,-9.2z" fill="#A6F4FF"/>
<path d="M1078,1160.4 l9.0,9.2 l-9.0,9.2 l-9.0,-9.2z" fill="#A6F4FF"/>
<path d="M1137.6,1126.5 l9.0,9.2 l-9.0,9.2 l-9.0,-9.2z" fill="#A6F4FF"/>
<path d="M1197.1,1094.4 l9.0,9.2 l-9.0,9.2 l-9.0,-9.2z" fill="#A6F4FF"/>
<path d="M1256.7,1059.8 l9.0,9.2 l-9.0,9.2 l-9.0,-9.2z" fill="#A6F4FF"/>
<path d="M1316.3,1026.4 l9.0,9.2 l-9.0,9.2 l-9.0,-9.2z" fill="#A6F4FF"/>
<path d="M1375.9,992.7 l9.0,9.2 l-9.0,9.2 l-9.0,-9.2z" fill="#A6F4FF"/>
<path d="M1435.4,957.3 l9.0,9.2 l-9.0,9.2 l-9.0,-9.2z" fill="#A6F4FF"/>
<path d="M1495,925 l9.0,9.2 l-9.0,9.2 l-9.0,-9.2z" fill="#A6F4FF"/>
</g>
<g>
<path d="M303.5,1736.4C313.4,1736.8 343.2,1742.6 363.1,1738.8C382.9,1735 402.8,1721.1 422.6,1713.4C442.5,1705.7 462.4,1700 482.2,1692.4C502.1,1684.8 521.9,1676.8 541.8,1667.6C561.7,1658.4 581.5,1646.8 601.4,1637.2C621.2,1627.6 641.1,1619.4 661,1609.8C680.8,1600.2 700.7,1590.2 720.5,1579.7C740.4,1569.2 760.2,1557.4 780.1,1546.8C800,1536.2 819.8,1526.9 839.7,1516.3C859.5,1505.7 879.4,1493.8 899.2,1483.2C919.1,1472.7 939,1463.7 958.8,1453C978.7,1442.3 998.5,1430.4 1018.4,1419.3C1038.3,1408.2 1058.1,1397.5 1078,1386.4C1097.8,1375.3 1117.7,1364.5 1137.6,1352.8C1157.4,1341.1 1177.3,1327.5 1197.1,1316.4C1217,1305.3 1236.8,1297 1256.7,1286.4C1276.6,1275.8 1296.4,1264.1 1316.3,1253C1336.1,1241.9 1356,1230.5 1375.9,1219.6C1395.7,1208.6 1415.6,1197.8 1435.4,1187.3C1455.3,1176.8 1485.1,1161.9 1495,1156.8" stroke="#C6FADA" stroke-width="2.7" fill="none"/>
<rect x="295.5" y="1727.6" width="16" height="16" fill="#A8F6C2"/>
<rect x="355.1" y="1730" width="16" height="16" fill="#A8F6C2"/>
<rect x="414.6" y="1704.6" width="16" height="16" fill="#A8F6C2"/>
<rect x="474.2" y="1683.6" width="16" height="16" fill="#A8F6C2"/>
<rect x="533.8" y="1658.8" width="16" height="16" fill="#A8F6C2"/>
<rect x="593.4" y="1628.4" width="16" height="16" fill="#A8F6C2"/>
<rect x="653" y="1601" width="16" height="16" fill="#A8F6C2"/>
<rect x="712.5" y="1570.9" width="16" height="16" fill="#A8F6C2"/>
<rect x="772.1" y="1538" width="16" height="16" fill="#A8F6C2"/>
<rect x="831.7" y="1507.5" width="16" height="16" fill="#A8F6C2"/>
<rect x="891.2" y="1474.4" width="16" height="16" fill="#A8F6C2"/>
<rect x="950.8" y="1444.2" width="16" height="16" fill="#A8F6C2"/>
<rect x="1010.4" y="1410.5" width="16" height="16" fill="#A8F6C2"/>
<rect x="1070" y="1377.6" width="16" height="16" fill="#A8F6C2"/>
<rect x="1129.6" y="1344" width="16" height="16" fill="#A8F6C2"/>
<rect x="1189.1" y="1307.6" width="16" height="16" fill="#A8F6C2"/>
<rect x="1248.7" y="1277.6" width="16" height="16" fill="#A8F6C2"/>
<rect x="1308.3" y="1244.2" width="16" height="16" fill="#A8F6C2"/>
<rect x="1367.9" y="1210.8" width="16" height="16" fill="#A8F6C2"/>
<rect x="1427.4" y="1178.5" width="16" height="16" fill="#A8F6C2"/>
<rect x="1487" y="1148" width="16" height="16" fill="#A8F6C2"/>
</g>
<g>
<path d="M303.5,1686.8C313.4,1674.9 343.2,1625 363.1,1615.4C382.9,1605.8 402.8,1631.6 422.6,1629.2C442.5,1626.8 462.4,1609.9 482.2,1600.8C502.1,1591.7 521.9,1584.3 541.8,1574.8C561.7,1565.3 581.5,1553.8 601.4,1543.8C621.2,1533.8 641.1,1524.8 661,1514.8C680.8,1504.8 700.7,1493.6 720.5,1483.8C740.4,1474 760.2,1465.1 780.1,1455.8C800,1446.5 819.8,1437.5 839.7,1427.8C859.5,1418.1 879.4,1407.8 899.2,1397.8C919.1,1387.8 939,1377.8 958.8,1367.8C978.7,1357.8 998.5,1348.7 1018.4,1337.8C1038.3,1326.9 1058.1,1313.4 1078,1302.2C1097.8,1291 1117.7,1281.3 1137.6,1270.5C1157.4,1259.7 1177.3,1248.4 1197.1,1237.3C1217,1226.2 1236.8,1214.5 1256.7,1203.8C1276.6,1193 1296.4,1183.7 1316.3,1172.8C1336.1,1161.9 1356,1149.2 1375.9,1138.5C1395.7,1127.8 1415.6,1118.9 1435.4,1108.5C1455.3,1098.1 1485.1,1081.7 1495,1076.3" stroke="#FFFF99" stroke-width="2.7" fill="none"/>
<path d="M303.5,1676.5 l10,19 h-20z" fill="#FFFF7A"/>
<path d="M363.1,1605.1 l10,19 h-20z" fill="#FFFF7A"/>
<path d="M422.6,1618.9 l10,19 h-20z" fill="#FFFF7A"/>
<path d="M482.2,1590.5 l10,19 h-20z" fill="#FFFF7A"/>
<path d="M541.8,1564.5 l10,19 h-20z" fill="#FFFF7A"/>
<path d="M601.4,1533.5 l10,19 h-20z" fill="#FFFF7A"/>
<path d="M661,1504.5 l10,19 h-20z" fill="#FFFF7A"/>
<path d="M720.5,1473.5 l10,19 h-20z" fill="#FFFF7A"/>
<path d="M780.1,1445.5 l10,19 h-20z" fill="#FFFF7A"/>
<path d="M839.7,1417.5 l10,19 h-20z" fill="#FFFF7A"/>
<path d="M899.2,1387.5 l10,19 h-20z" fill="#FFFF7A"/>
<path d="M958.8,1357.5 l10,19 h-20z" fill="#FFFF7A"/>
<path d="M1018.4,1327.5 l10,19 h-20z" fill="#FFFF7A"/>
<path d="M1078,1291.9 l10,19 h-20z" fill="#FFFF7A"/>
<path d="M1137.6,1260.2 l10,19 h-20z" fill="#FFFF7A"/>
<path d="M1197.1,1227 l10,19 h-20z" fill="#FFFF7A"/>
<path d="M1256.7,1193.5 l10,19 h-20z" fill="#FFFF7A"/>
<path d="M1316.3,1162.5 l10,19 h-20z" fill="#FFFF7A"/>
<path d="M1375.9,1128.2 l10,19 h-20z" fill="#FFFF7A"/>
<path d="M1435.4,1098.2 l10,19 h-20z" fill="#FFFF7A"/>
<path d="M1495,1066 l10,19 h-20z" fill="#FFFF7A"/>
</g>
<g>
<path d="M303.5,1288.6C313.4,1283.4 343.2,1263.9 363.1,1257.5C382.9,1251.1 402.8,1255.2 422.6,1250.1C442.5,1245 462.4,1234.7 482.2,1227.1C502.1,1219.5 521.9,1212.3 541.8,1204.5C561.7,1196.7 581.5,1188.5 601.4,1180.3C621.2,1172.1 641.1,1163.8 661,1155.1C680.8,1146.3 700.7,1136.4 720.5,1127.8C740.4,1119.2 760.2,1112.3 780.1,1103.4C800,1094.5 819.8,1083.9 839.7,1074.6C859.5,1065.3 879.4,1056.9 899.2,1047.8C919.1,1038.7 939,1029.2 958.8,1020C978.7,1010.8 998.5,1001.6 1018.4,992.4C1038.3,983.2 1058.1,973.7 1078,964.7C1097.8,955.7 1117.7,947.8 1137.6,938.2C1157.4,928.6 1177.3,917.6 1197.1,907.3C1217,897 1236.8,885.8 1256.7,876.2C1276.6,866.6 1296.4,859.3 1316.3,849.8C1336.1,840.3 1356,828.9 1375.9,819.3C1395.7,809.7 1415.6,801.7 1435.4,792.1C1455.3,782.5 1485.1,766.6 1495,761.5" stroke="#99CCFF" stroke-width="2.7" fill="none"/>
<path d="M297,1281.3 l13,13 m0,-13 l-13,13" stroke="#7CC4FF" stroke-width="2.5" fill="none"/>
<path d="M356.6,1250.2 l13,13 m0,-13 l-13,13" stroke="#7CC4FF" stroke-width="2.5" fill="none"/>
<path d="M416.1,1242.8 l13,13 m0,-13 l-13,13" stroke="#7CC4FF" stroke-width="2.5" fill="none"/>
<path d="M475.7,1219.8 l13,13 m0,-13 l-13,13" stroke="#7CC4FF" stroke-width="2.5" fill="none"/>
<path d="M535.3,1197.2 l13,13 m0,-13 l-13,13" stroke="#7CC4FF" stroke-width="2.5" fill="none"/>
<path d="M594.9,1173 l13,13 m0,-13 l-13,13" stroke="#7CC4FF" stroke-width="2.5" fill="none"/>
<path d="M654.5,1147.8 l13,13 m0,-13 l-13,13" stroke="#7CC4FF" stroke-width="2.5" fill="none"/>
<path d="M714,1120.5 l13,13 m0,-13 l-13,13" stroke="#7CC4FF" stroke-width="2.5" fill="none"/>
<path d="M773.6,1096.1 l13,13 m0,-13 l-13,13" stroke="#7CC4FF" stroke-width="2.5" fill="none"/>
<path d="M833.2,1067.3 l13,13 m0,-13 l-13,13" stroke="#7CC4FF" stroke-width="2.5" fill="none"/>
<path d="M892.7,1040.5 l13,13 m0,-13 l-13,13" stroke="#7CC4FF" stroke-width="2.5" fill="none"/>
<path d="M952.3,1012.7 l13,13 m0,-13 l-13,13" stroke="#7CC4FF" stroke-width="2.5" fill="none"/>
<path d="M1011.9,985.1 l13,13 m0,-13 l-13,13" stroke="#7CC4FF" stroke-width="2.5" fill="none"/>
<path d="M1071.5,957.4 l13,13 m0,-13 l-13,13" stroke="#7CC4FF" stroke-width="2.5" fill="none"/>
<path d="M1131.1,930.9 l13,13 m0,-13 l-13,13" stroke="#7CC4FF" stroke-width="2.5" fill="none"/>
<path d="M1190.6,900 l13,13 m0,-13 l-13,13" stroke="#7CC4FF" stroke-width="2.5" fill="none"/>
<path d="M1250.2,868.9 l13,13 m0,-13 l-13,13" stroke="#7CC4FF" stroke-width="2.5" fill="none"/>
<path d="M1309.8,842.5 l13,13 m0,-13 l-13,13" stroke="#7CC4FF" stroke-width="2.5" fill="none"/>
<path d="M1369.4,812 l13,13 m0,-13 l-13,13" stroke="#7CC4FF" stroke-width="2.5" fill="none"/>
<path d="M1428.9,784.8 l13,13 m0,-13 l-13,13" stroke="#7CC4FF" stroke-width="2.5" fill="none"/>
<path d="M1488.5,754.2 l13,13 m0,-13 l-13,13" stroke="#7CC4FF" stroke-width="2.5" fill="none"/>
</g>
<g>
<path d="M303.5,1184.8C313.4,1182.5 343.2,1176.8 363.1,1171.1C382.9,1165.3 402.8,1157 422.6,1150.3C442.5,1143.6 462.4,1137.3 482.2,1130.8C502.1,1124.3 521.9,1118.1 541.8,1111.2C561.7,1104.3 581.5,1097.4 601.4,1089.6C621.2,1081.8 641.1,1073 661,1064.6C680.8,1056.2 700.7,1047.6 720.5,1039.3C740.4,1031 760.2,1022.8 780.1,1014.6C800,1006.3 819.8,998 839.7,989.8C859.5,981.6 879.4,974.1 899.2,965.5C919.1,956.9 939,947.2 958.8,938C978.7,928.8 998.5,919.4 1018.4,910.3C1038.3,901.2 1058.1,892.4 1078,883.5C1097.8,874.6 1117.7,865.6 1137.6,856.7C1157.4,847.8 1177.3,839.8 1197.1,830.2C1217,820.6 1236.8,808.3 1256.7,799C1276.6,789.7 1296.4,783.6 1316.3,774.4C1336.1,765.2 1356,753.4 1375.9,743.8C1395.7,734.2 1415.6,725.8 1435.4,716.8C1455.3,707.8 1485.1,694.1 1495,689.6" stroke="#FF9FCF" stroke-width="2.7" fill="none"/>
<path d="M297.5,1177.5 l12,13 m0,-13 l-12,13 M303.5,1176.5 v15" stroke="#FF88C0" stroke-width="2.6" fill="none"/><rect x="300" y="1180" width="7" height="8" fill="#FF88C0"/>
<path d="M357.1,1163.8 l12,13 m0,-13 l-12,13 M363.1,1162.8 v15" stroke="#FF88C0" stroke-width="2.6" fill="none"/><rect x="359.6" y="1166.3" width="7" height="8" fill="#FF88C0"/>
<path d="M416.6,1143 l12,13 m0,-13 l-12,13 M422.6,1142 v15" stroke="#FF88C0" stroke-width="2.6" fill="none"/><rect x="419.1" y="1145.5" width="7" height="8" fill="#FF88C0"/>
<path d="M476.2,1123.5 l12,13 m0,-13 l-12,13 M482.2,1122.5 v15" stroke="#FF88C0" stroke-width="2.6" fill="none"/><rect x="478.7" y="1126" width="7" height="8" fill="#FF88C0"/>
<path d="M535.8,1103.9 l12,13 m0,-13 l-12,13 M541.8,1102.9 v15" stroke="#FF88C0" stroke-width="2.6" fill="none"/><rect x="538.3" y="1106.4" width="7" height="8" fill="#FF88C0"/>
<path d="M595.4,1082.3 l12,13 m0,-13 l-12,13 M601.4,1081.3 v15" stroke="#FF88C0" stroke-width="2.6" fill="none"/><rect x="597.9" y="1084.8" width="7" height="8" fill="#FF88C0"/>
<path d="M655,1057.3 l12,13 m0,-13 l-12,13 M661,1056.3 v15" stroke="#FF88C0" stroke-width="2.6" fill="none"/><rect x="657.5" y="1059.8" width="7" height="8" fill="#FF88C0"/>
<path d="M714.5,1032 l12,13 m0,-13 l-12,13 M720.5,1031 v15" stroke="#FF88C0" stroke-width="2.6" fill="none"/><rect x="717" y="1034.5" width="7" height="8" fill="#FF88C0"/>
<path d="M774.1,1007.3 l12,13 m0,-13 l-12,13 M780.1,1006.3 v15" stroke="#FF88C0" stroke-width="2.6" fill="none"/><rect x="776.6" y="1009.8" width="7" height="8" fill="#FF88C0"/>
<path d="M833.7,982.5 l12,13 m0,-13 l-12,13 M839.7,981.5 v15" stroke="#FF88C0" stroke-width="2.6" fill="none"/><rect x="836.2" y="985" width="7" height="8" fill="#FF88C0"/>
<path d="M893.2,958.2 l12,13 m0,-13 l-12,13 M899.2,957.2 v15" stroke="#FF88C0" stroke-width="2.6" fill="none"/><rect x="895.7" y="960.7" width="7" height="8" fill="#FF88C0"/>
<path d="M952.8,930.7 l12,13 m0,-13 l-12,13 M958.8,929.7 v15" stroke="#FF88C0" stroke-width="2.6" fill="none"/><rect x="955.3" y="933.2" width="7" height="8" fill="#FF88C0"/>
<path d="M1012.4,903 l12,13 m0,-13 l-12,13 M1018.4,902 v15" stroke="#FF88C0" stroke-width="2.6" fill="none"/><rect x="1014.9" y="905.5" width="7" height="8" fill="#FF88C0"/>
<path d="M1072,876.2 l12,13 m0,-13 l-12,13 M1078,875.2 v15" stroke="#FF88C0" stroke-width="2.6" fill="none"/><rect x="1074.5" y="878.7" width="7" height="8" fill="#FF88C0"/>
<path d="M1131.6,849.4 l12,13 m0,-13 l-12,13 M1137.6,848.4 v15" stroke="#FF88C0" stroke-width="2.6" fill="none"/><rect x="1134.1" y="851.9" width="7" height="8" fill="#FF88C0"/>
<path d="M1191.1,822.9 l12,13 m0,-13 l-12,13 M1197.1,821.9 v15" stroke="#FF88C0" stroke-width="2.6" fill="none"/><rect x="1193.6" y="825.4" width="7" height="8" fill="#FF88C0"/>
<path d="M1250.7,791.7 l12,13 m0,-13 l-12,13 M1256.7,790.7 v15" stroke="#FF88C0" stroke-width="2.6" fill="none"/><rect x="1253.2" y="794.2" width="7" height="8" fill="#FF88C0"/>
<path d="M1310.3,767.1 l12,13 m0,-13 l-12,13 M1316.3,766.1 v15" stroke="#FF88C0" stroke-width="2.6" fill="none"/><rect x="1312.8" y="769.6" width="7" height="8" fill="#FF88C0"/>
<path d="M1369.9,736.5 l12,13 m0,-13 l-12,13 M1375.9,735.5 v15" stroke="#FF88C0" stroke-width="2.6" fill="none"/><rect x="1372.4" y="739" width="7" height="8" fill="#FF88C0"/>
<path d="M1429.4,709.5 l12,13 m0,-13 l-12,13 M1435.4,708.5 v15" stroke="#FF88C0" stroke-width="2.6" fill="none"/><rect x="1431.9" y="712" width="7" height="8" fill="#FF88C0"/>
<path d="M1489,682.3 l12,13 m0,-13 l-12,13 M1495,681.3 v15" stroke="#FF88C0" stroke-width="2.6" fill="none"/><rect x="1491.5" y="684.8" width="7" height="8" fill="#FF88C0"/>
</g>
<g>
<path d="M303.5,1711.8C313.4,1709.9 343.2,1707.9 363.1,1700.5C382.9,1693.1 402.8,1678.5 422.6,1667.6C442.5,1656.6 462.4,1645.8 482.2,1634.8C502.1,1623.8 521.9,1612.9 541.8,1601.6C561.7,1590.2 581.5,1578.1 601.4,1566.7C621.2,1555.3 641.1,1544.7 661,1533C680.8,1521.3 700.7,1508.9 720.5,1496.8C740.4,1484.7 760.2,1472.4 780.1,1460.4C800,1448.4 819.8,1436.4 839.7,1424.8C859.5,1413.2 879.4,1402.2 899.2,1390.8C919.1,1379.4 939,1367.9 958.8,1356.2C978.7,1344.5 998.5,1332.8 1018.4,1320.8C1038.3,1308.8 1058.1,1296 1078,1284.5C1097.8,1273 1117.7,1263.2 1137.6,1251.8C1157.4,1240.4 1177.3,1228.4 1197.1,1216.1C1217,1203.8 1236.8,1190.2 1256.7,1178.1C1276.6,1166 1296.4,1155.3 1316.3,1143.6C1336.1,1131.9 1356,1120.1 1375.9,1108.1C1395.7,1096.1 1415.6,1084.1 1435.4,1071.7C1455.3,1059.3 1485.1,1040.1 1495,1033.8" stroke="#D8A0FF" stroke-width="2.7" fill="none"/>
<path d="M303.5,1702.4 l8.4,8.6 l-8.4,8.6 l-8.4,-8.6z" fill="#D48CFF" stroke="#D48CFF" stroke-width="1" stroke-linejoin="round"/>
<path d="M363.1,1691.1 l8.4,8.6 l-8.4,8.6 l-8.4,-8.6z" fill="#D48CFF" stroke="#D48CFF" stroke-width="1" stroke-linejoin="round"/>
<path d="M422.6,1658.2 l8.4,8.6 l-8.4,8.6 l-8.4,-8.6z" fill="#D48CFF" stroke="#D48CFF" stroke-width="1" stroke-linejoin="round"/>
<path d="M482.2,1625.4 l8.4,8.6 l-8.4,8.6 l-8.4,-8.6z" fill="#D48CFF" stroke="#D48CFF" stroke-width="1" stroke-linejoin="round"/>
<path d="M541.8,1592.2 l8.4,8.6 l-8.4,8.6 l-8.4,-8.6z" fill="#D48CFF" stroke="#D48CFF" stroke-width="1" stroke-linejoin="round"/>
<path d="M601.4,1557.3 l8.4,8.6 l-8.4,8.6 l-8.4,-8.6z" fill="#D48CFF" stroke="#D48CFF" stroke-width="1" stroke-linejoin="round"/>
<path d="M661,1523.6 l8.4,8.6 l-8.4,8.6 l-8.4,-8.6z" fill="#D48CFF" stroke="#D48CFF" stroke-width="1" stroke-linejoin="round"/>
<path d="M720.5,1487.4 l8.4,8.6 l-8.4,8.6 l-8.4,-8.6z" fill="#D48CFF" stroke="#D48CFF" stroke-width="1" stroke-linejoin="round"/>
<path d="M780.1,1451 l8.4,8.6 l-8.4,8.6 l-8.4,-8.6z" fill="#D48CFF" stroke="#D48CFF" stroke-width="1" stroke-linejoin="round"/>
<path d="M839.7,1415.4 l8.4,8.6 l-8.4,8.6 l-8.4,-8.6z" fill="#D48CFF" stroke="#D48CFF" stroke-width="1" stroke-linejoin="round"/>
<path d="M899.2,1381.4 l8.4,8.6 l-8.4,8.6 l-8.4,-8.6z" fill="#D48CFF" stroke="#D48CFF" stroke-width="1" stroke-linejoin="round"/>
<path d="M958.8,1346.8 l8.4,8.6 l-8.4,8.6 l-8.4,-8.6z" fill="#D48CFF" stroke="#D48CFF" stroke-width="1" stroke-linejoin="round"/>
<path d="M1018.4,1311.4 l8.4,8.6 l-8.4,8.6 l-8.4,-8.6z" fill="#D48CFF" stroke="#D48CFF" stroke-width="1" stroke-linejoin="round"/>
<path d="M1078,1275.1 l8.4,8.6 l-8.4,8.6 l-8.4,-8.6z" fill="#D48CFF" stroke="#D48CFF" stroke-width="1" stroke-linejoin="round"/>
<path d="M1137.6,1242.4 l8.4,8.6 l-8.4,8.6 l-8.4,-8.6z" fill="#D48CFF" stroke="#D48CFF" stroke-width="1" stroke-linejoin="round"/>
<path d="M1197.1,1206.7 l8.4,8.6 l-8.4,8.6 l-8.4,-8.6z" fill="#D48CFF" stroke="#D48CFF" stroke-width="1" stroke-linejoin="round"/>
<path d="M1256.7,1168.7 l8.4,8.6 l-8.4,8.6 l-8.4,-8.6z" fill="#D48CFF" stroke="#D48CFF" stroke-width="1" stroke-linejoin="round"/>
<path d="M1316.3,1134.2 l8.4,8.6 l-8.4,8.6 l-8.4,-8.6z" fill="#D48CFF" stroke="#D48CFF" stroke-width="1" stroke-linejoin="round"/>
<path d="M1375.9,1098.7 l8.4,8.6 l-8.4,8.6 l-8.4,-8.6z" fill="#D48CFF" stroke="#D48CFF" stroke-width="1" stroke-linejoin="round"/>
<path d="M1435.4,1062.3 l8.4,8.6 l-8.4,8.6 l-8.4,-8.6z" fill="#D48CFF" stroke="#D48CFF" stroke-width="1" stroke-linejoin="round"/>
<path d="M1495,1024.4 l8.4,8.6 l-8.4,8.6 l-8.4,-8.6z" fill="#D48CFF" stroke="#D48CFF" stroke-width="1" stroke-linejoin="round"/>
</g>
<g>
<path d="M303.5,1686.7C313.4,1683.5 343.2,1673.2 363.1,1667.6C382.9,1661.9 402.8,1660.3 422.6,1652.8C442.5,1645.3 462.4,1632.6 482.2,1622.8C502.1,1613 521.9,1604 541.8,1594.2C561.7,1584.4 581.5,1574.3 601.4,1563.8C621.2,1553.3 641.1,1542.2 661,1531.3C680.8,1520.4 700.7,1509.5 720.5,1498.4C740.4,1487.3 760.2,1476.1 780.1,1464.8C800,1453.5 819.8,1442.1 839.7,1430.8C859.5,1419.5 879.4,1407.9 899.2,1396.8C919.1,1385.7 939,1375 958.8,1364C978.7,1353 998.5,1342.3 1018.4,1331.1C1038.3,1319.9 1058.1,1307.8 1078,1296.6C1097.8,1285.3 1117.7,1274.7 1137.6,1263.6C1157.4,1252.5 1177.3,1241.5 1197.1,1230C1217,1218.5 1236.8,1205.8 1256.7,1194.3C1276.6,1182.8 1296.4,1172.3 1316.3,1160.8C1336.1,1149.3 1356,1136.7 1375.9,1125.1C1395.7,1113.5 1415.6,1102.9 1435.4,1091.4C1455.3,1079.9 1485.1,1062.1 1495,1056.2" stroke="#FFCC9C" stroke-width="2.7" fill="none"/>
<path d="M303.5,1678.4 v15" stroke="#FFC592" stroke-width="3.4" fill="none"/>
<path d="M363.1,1659.3 v15" stroke="#FFC592" stroke-width="3.4" fill="none"/>
<path d="M422.6,1644.5 v15" stroke="#FFC592" stroke-width="3.4" fill="none"/>
<path d="M482.2,1614.5 v15" stroke="#FFC592" stroke-width="3.4" fill="none"/>
<path d="M541.8,1585.9 v15" stroke="#FFC592" stroke-width="3.4" fill="none"/>
<path d="M601.4,1555.5 v15" stroke="#FFC592" stroke-width="3.4" fill="none"/>
<path d="M661,1523 v15" stroke="#FFC592" stroke-width="3.4" fill="none"/>
<path d="M720.5,1490.1 v15" stroke="#FFC592" stroke-width="3.4" fill="none"/>
<path d="M780.1,1456.5 v15" stroke="#FFC592" stroke-width="3.4" fill="none"/>
<path d="M839.7,1422.5 v15" stroke="#FFC592" stroke-width="3.4" fill="none"/>
<path d="M899.2,1388.5 v15" stroke="#FFC592" stroke-width="3.4" fill="none"/>
<path d="M958.8,1355.7 v15" stroke="#FFC592" stroke-width="3.4" fill="none"/>
<path d="M1018.4,1322.8 v15" stroke="#FFC592" stroke-width="3.4" fill="none"/>
<path d="M1078,1288.3 v15" stroke="#FFC592" stroke-width="3.4" fill="none"/>
<path d="M1137.6,1255.3 v15" stroke="#FFC592" stroke-width="3.4" fill="none"/>
<path d="M1197.1,1221.7 v15" stroke="#FFC592" stroke-width="3.4" fill="none"/>
<path d="M1256.7,1186 v15" stroke="#FFC592" stroke-width="3.4" fill="none"/>
<path d="M1316.3,1152.5 v15" stroke="#FFC592" stroke-width="3.4" fill="none"/>
<path d="M1375.9,1116.8 v15" stroke="#FFC592" stroke-width="3.4" fill="none"/>
<path d="M1435.4,1083.1 v15" stroke="#FFC592" stroke-width="3.4" fill="none"/>
<path d="M1495,1047.9 v15" stroke="#FFC592" stroke-width="3.4" fill="none"/>
</g>
<g>
<path d="M303.5,1604.6C313.4,1600.4 343.2,1586.8 363.1,1579.5C382.9,1572.2 402.8,1567.9 422.6,1560.5C442.5,1553.1 462.4,1543.9 482.2,1535.1C502.1,1526.3 521.9,1517 541.8,1507.8C561.7,1498.6 581.5,1489.8 601.4,1480.1C621.2,1470.4 641.1,1459.6 661,1449.4C680.8,1439.2 700.7,1429.2 720.5,1418.7C740.4,1408.2 760.2,1397.1 780.1,1386.5C800,1375.9 819.8,1365.5 839.7,1355.3C859.5,1345.1 879.4,1335.6 899.2,1325.1C919.1,1314.6 939,1302.9 958.8,1292.3C978.7,1281.7 998.5,1271.8 1018.4,1261.2C1038.3,1250.6 1058.1,1239.2 1078,1228.7C1097.8,1218.2 1117.7,1208.8 1137.6,1198.3C1157.4,1187.8 1177.3,1176.5 1197.1,1165.5C1217,1154.5 1236.8,1143 1256.7,1132C1276.6,1121 1296.4,1110.2 1316.3,1099.3C1336.1,1088.3 1356,1077.3 1375.9,1066.3C1395.7,1055.3 1415.6,1044.2 1435.4,1033.2C1455.3,1022.2 1485.1,1005.5 1495,1000" stroke="#3366FF" stroke-width="3.2" fill="none"/>
<rect x="302.5" y="1600.9" width="12" height="5.5" fill="#3366FF"/>
<rect x="362.1" y="1575.8" width="12" height="5.5" fill="#3366FF"/>
<rect x="421.6" y="1556.8" width="12" height="5.5" fill="#3366FF"/>
<rect x="481.2" y="1531.4" width="12" height="5.5" fill="#3366FF"/>
<rect x="540.8" y="1504.1" width="12" height="5.5" fill="#3366FF"/>
<rect x="600.4" y="1476.4" width="12" height="5.5" fill="#3366FF"/>
<rect x="660" y="1445.7" width="12" height="5.5" fill="#3366FF"/>
<rect x="719.5" y="1415" width="12" height="5.5" fill="#3366FF"/>
<rect x="779.1" y="1382.8" width="12" height="5.5" fill="#3366FF"/>
<rect x="838.7" y="1351.6" width="12" height="5.5" fill="#3366FF"/>
<rect x="898.2" y="1321.4" width="12" height="5.5" fill="#3366FF"/>
<rect x="957.8" y="1288.6" width="12" height="5.5" fill="#3366FF"/>
<rect x="1017.4" y="1257.5" width="12" height="5.5" fill="#3366FF"/>
<rect x="1077" y="1225" width="12" height="5.5" fill="#3366FF"/>
<rect x="1136.6" y="1194.6" width="12" height="5.5" fill="#3366FF"/>
<rect x="1196.1" y="1161.8" width="12" height="5.5" fill="#3366FF"/>
<rect x="1255.7" y="1128.3" width="12" height="5.5" fill="#3366FF"/>
<rect x="1315.3" y="1095.6" width="12" height="5.5" fill="#3366FF"/>
<rect x="1374.9" y="1062.6" width="12" height="5.5" fill="#3366FF"/>
<rect x="1434.4" y="1029.5" width="12" height="5.5" fill="#3366FF"/>
<rect x="1494" y="996.3" width="12" height="5.5" fill="#3366FF"/>
</g>
<g>
<path d="M303.5,1651.2C313.4,1647.5 343.2,1634.9 363.1,1628.8C382.9,1622.7 402.8,1620.8 422.6,1614.8C442.5,1608.8 462.4,1599.7 482.2,1592.5C502.1,1585.3 521.9,1580 541.8,1571.8C561.7,1563.6 581.5,1551.7 601.4,1543.4C621.2,1535.1 641.1,1531 661,1521.8C680.8,1512.6 700.7,1498.3 720.5,1488.1C740.4,1477.9 760.2,1470 780.1,1460.8C800,1451.6 819.8,1442.5 839.7,1432.8C859.5,1423.1 879.4,1412.8 899.2,1402.8C919.1,1392.8 939,1382.7 958.8,1372.6C978.7,1362.5 998.5,1352.6 1018.4,1342.4C1038.3,1332.2 1058.1,1322.2 1078,1311.6C1097.8,1301 1117.7,1289.4 1137.6,1278.9C1157.4,1268.4 1177.3,1259 1197.1,1248.4C1217,1237.8 1236.8,1225.7 1256.7,1215C1276.6,1204.3 1296.4,1195 1316.3,1184.3C1336.1,1173.6 1356,1161.5 1375.9,1150.8C1395.7,1140.1 1415.6,1130.9 1435.4,1120.4C1455.3,1109.9 1485.1,1093.4 1495,1088" stroke="#28D0D0" stroke-width="3.2" fill="none"/>
<rect x="294" y="1647.5" width="20" height="5.5" fill="#08C8C8"/>
<rect x="353.6" y="1625.1" width="20" height="5.5" fill="#08C8C8"/>
<rect x="413.1" y="1611.1" width="20" height="5.5" fill="#08C8C8"/>
<rect x="472.7" y="1588.8" width="20" height="5.5" fill="#08C8C8"/>
<rect x="532.3" y="1568.1" width="20" height="5.5" fill="#08C8C8"/>
<rect x="591.9" y="1539.7" width="20" height="5.5" fill="#08C8C8"/>
<rect x="651.5" y="1518.1" width="20" height="5.5" fill="#08C8C8"/>
<rect x="711" y="1484.4" width="20" height="5.5" fill="#08C8C8"/>
<rect x="770.6" y="1457.1" width="20" height="5.5" fill="#08C8C8"/>
<rect x="830.2" y="1429.1" width="20" height="5.5" fill="#08C8C8"/>
<rect x="889.7" y="1399.1" width="20" height="5.5" fill="#08C8C8"/>
<rect x="949.3" y="1368.9" width="20" height="5.5" fill="#08C8C8"/>
<rect x="1008.9" y="1338.7" width="20" height="5.5" fill="#08C8C8"/>
<rect x="1068.5" y="1307.9" width="20" height="5.5" fill="#08C8C8"/>
<rect x="1128.1" y="1275.2" width="20" height="5.5" fill="#08C8C8"/>
<rect x="1187.6" y="1244.7" width="20" height="5.5" fill="#08C8C8"/>
<rect x="1247.2" y="1211.3" width="20" height="5.5" fill="#08C8C8"/>
<rect x="1306.8" y="1180.6" width="20" height="5.5" fill="#08C8C8"/>
<rect x="1366.4" y="1147.1" width="20" height="5.5" fill="#08C8C8"/>
<rect x="1425.9" y="1116.7" width="20" height="5.5" fill="#08C8C8"/>
<rect x="1485.5" y="1084.3" width="20" height="5.5" fill="#08C8C8"/>
</g>
<g>
<path d="M303.5,1698.8C313.4,1695.6 343.2,1688 363.1,1679.8C382.9,1671.6 402.8,1660.1 422.6,1649.5C442.5,1638.9 462.4,1626.9 482.2,1616.2C502.1,1605.5 521.9,1596 541.8,1585.6C561.7,1575.2 581.5,1564.7 601.4,1553.8C621.2,1542.9 641.1,1531.5 661,1520C680.8,1508.5 700.7,1496.8 720.5,1485C740.4,1473.2 760.2,1461 780.1,1449.4C800,1437.8 819.8,1426.9 839.7,1415.3C859.5,1403.7 879.4,1391.5 899.2,1379.5C919.1,1367.5 939,1355.2 958.8,1343.2C978.7,1331.2 998.5,1319.8 1018.4,1307.8C1038.3,1295.8 1058.1,1283.2 1078,1271.5C1097.8,1259.8 1117.7,1249.4 1137.6,1237.9C1157.4,1226.4 1177.3,1214.2 1197.1,1202.3C1217,1190.4 1236.8,1178.5 1256.7,1166.6C1276.6,1154.7 1296.4,1143.2 1316.3,1130.8C1336.1,1118.4 1356,1104.7 1375.9,1092.2C1395.7,1079.7 1415.6,1067.8 1435.4,1055.8C1455.3,1043.8 1485.1,1026.1 1495,1020.2" stroke="#90CC10" stroke-width="2.7" fill="none"/>
<path d="M303.5,1688.8 l9.0,9.2 l-9.0,9.2 l-9.0,-9.2z" fill="#88CC08"/>
<path d="M363.1,1669.8 l9.0,9.2 l-9.0,9.2 l-9.0,-9.2z" fill="#88CC08"/>
<path d="M422.6,1639.5 l9.0,9.2 l-9.0,9.2 l-9.0,-9.2z" fill="#88CC08"/>
<path d="M482.2,1606.2 l9.0,9.2 l-9.0,9.2 l-9.0,-9.2z" fill="#88CC08"/>
<path d="M541.8,1575.6 l9.0,9.2 l-9.0,9.2 l-9.0,-9.2z" fill="#88CC08"/>
<path d="M601.4,1543.8 l9.0,9.2 l-9.0,9.2 l-9.0,-9.2z" fill="#88CC08"/>
<path d="M661,1510 l9.0,9.2 l-9.0,9.2 l-9.0,-9.2z" fill="#88CC08"/>
<path d="M720.5,1475 l9.0,9.2 l-9.0,9.2 l-9.0,-9.2z" fill="#88CC08"/>
<path d="M780.1,1439.4 l9.0,9.2 l-9.0,9.2 l-9.0,-9.2z" fill="#88CC08"/>
<path d="M839.7,1405.3 l9.0,9.2 l-9.0,9.2 l-9.0,-9.2z" fill="#88CC08"/>
<path d="M899.2,1369.5 l9.0,9.2 l-9.0,9.2 l-9.0,-9.2z" fill="#88CC08"/>
<path d="M958.8,1333.2 l9.0,9.2 l-9.0,9.2 l-9.0,-9.2z" fill="#88CC08"/>
<path d="M1018.4,1297.8 l9.0,9.2 l-9.0,9.2 l-9.0,-9.2z" fill="#88CC08"/>
<path d="M1078,1261.5 l9.0,9.2 l-9.0,9.2 l-9.0,-9.2z" fill="#88CC08"/>
<path d="M1137.6,1227.9 l9.0,9.2 l-9.0,9.2 l-9.0,-9.2z" fill="#88CC08"/>
<path d="M1197.1,1192.3 l9.0,9.2 l-9.0,9.2 l-9.0,-9.2z" fill="#88CC08"/>
<path d="M1256.7,1156.6 l9.0,9.2 l-9.0,9.2 l-9.0,-9.2z" fill="#88CC08"/>
<path d="M1316.3,1120.8 l9.0,9.2 l-9.0,9.2 l-9.0,-9.2z" fill="#88CC08"/>
<path d="M1375.9,1082.2 l9.0,9.2 l-9.0,9.2 l-9.0,-9.2z" fill="#88CC08"/>
<path d="M1435.4,1045.8 l9.0,9.2 l-9.0,9.2 l-9.0,-9.2z" fill="#88CC08"/>
<path d="M1495,1010.2 l9.0,9.2 l-9.0,9.2 l-9.0,-9.2z" fill="#88CC08"/>
</g>
<g>
<path d="M303.5,1504.4C313.4,1499.8 343.2,1484.1 363.1,1476.8C382.9,1469.5 402.8,1467.7 422.6,1460.3C442.5,1452.9 462.4,1441.7 482.2,1432.6C502.1,1423.5 521.9,1415.8 541.8,1405.8C561.7,1395.8 581.5,1383.9 601.4,1372.8C621.2,1361.7 641.1,1350.1 661,1339C680.8,1327.9 700.7,1317.3 720.5,1306.2C740.4,1295.1 760.2,1283.7 780.1,1272.5C800,1261.3 819.8,1250.6 839.7,1239.2C859.5,1227.8 879.4,1215.4 899.2,1204.1C919.1,1192.8 939,1182.7 958.8,1171.2C978.7,1159.7 998.5,1146.6 1018.4,1134.9C1038.3,1123.2 1058.1,1112.7 1078,1101.2C1097.8,1089.7 1117.7,1077.9 1137.6,1066.1C1157.4,1054.3 1177.3,1042.4 1197.1,1030.4C1217,1018.4 1236.8,1005.8 1256.7,994.3C1276.6,982.8 1296.4,973.3 1316.3,961.3C1336.1,949.3 1356,934.2 1375.9,922.3C1395.7,910.4 1415.6,901.5 1435.4,890.1C1455.3,878.7 1485.1,859.8 1495,853.8" stroke="#FFCC00" stroke-width="2.7" fill="none"/>
<rect x="295.5" y="1495.6" width="16" height="16" fill="#FFCC00"/>
<rect x="355.1" y="1468" width="16" height="16" fill="#FFCC00"/>
<rect x="414.6" y="1451.5" width="16" height="16" fill="#FFCC00"/>
<rect x="474.2" y="1423.8" width="16" height="16" fill="#FFCC00"/>
<rect x="533.8" y="1397" width="16" height="16" fill="#FFCC00"/>
<rect x="593.4" y="1364" width="16" height="16" fill="#FFCC00"/>
<rect x="653" y="1330.2" width="16" height="16" fill="#FFCC00"/>
<rect x="712.5" y="1297.4" width="16" height="16" fill="#FFCC00"/>
<rect x="772.1" y="1263.7" width="16" height="16" fill="#FFCC00"/>
<rect x="831.7" y="1230.4" width="16" height="16" fill="#FFCC00"/>
<rect x="891.2" y="1195.3" width="16" height="16" fill="#FFCC00"/>
<rect x="950.8" y="1162.4" width="16" height="16" fill="#FFCC00"/>
<rect x="1010.4" y="1126.1" width="16" height="16" fill="#FFCC00"/>
<rect x="1070" y="1092.4" width="16" height="16" fill="#FFCC00"/>
<rect x="1129.6" y="1057.3" width="16" height="16" fill="#FFCC00"/>
<rect x="1189.1" y="1021.6" width="16" height="16" fill="#FFCC00"/>
<rect x="1248.7" y="985.5" width="16" height="16" fill="#FFCC00"/>
<rect x="1308.3" y="952.5" width="16" height="16" fill="#FFCC00"/>
<rect x="1367.9" y="913.5" width="16" height="16" fill="#FFCC00"/>
<rect x="1427.4" y="881.3" width="16" height="16" fill="#FFCC00"/>
<rect x="1487" y="845" width="16" height="16" fill="#FFCC00"/>
</g>
</g>
<g text-anchor="end" style="font-size:55px">
<text x="263" y="76.8">10000</text>
<text x="263" y="1078">1000</text>
<text x="263" y="2077.3">100</text>
</g>
<g text-anchor="middle">
<text x="305.2" y="2154.5" style="font-size:55px">0.1</text>
<text x="898.6" y="2154.5" style="font-size:55px">1</text>
<text x="1495.5" y="2154.5" style="font-size:55px">10</text>
<text x="900.6" y="2243.3" style="font-size:52.2px">Frequency (Hz)</text>
<text transform="translate(74,1052) rotate(-90)" style="font-size:53.5px">Complex modulus (Pa)</text>
</g>
<g filter="url(#soft)">
<rect x="1570" y="313.8" width="248.2" height="1489" fill="#fff" stroke="#1c1c1c" stroke-width="3.3"/>
<path d="M1585,357.8 H1659.3" stroke="#20209A" stroke-width="3.2" fill="none"/>
<path d="M1622,347.8 l7.2,10.0 l-7.2,10.0 l-7.2,-10.0z" fill="#000080"/>
<path d="M1585,432.3 H1659.3" stroke="#FF00FF" stroke-width="3.2" fill="none"/>
<rect x="1614" y="423.5" width="16" height="16" fill="#FF00FF"/>
<path d="M1585,506.8 H1659.3" stroke="#FFFF00" stroke-width="4.0" fill="none"/>
<path d="M1622,497.3 l10,19 h-20z" fill="#FFFF00"/>
<path d="M1585,581.3 H1659.3" stroke="#00FFFF" stroke-width="4.0" fill="none"/>
<path d="M1615.5,574.8 l13,13 m0,-13 l-13,13" stroke="#00FFFF" stroke-width="3" fill="none"/>
<path d="M1585,655.8 H1659.3" stroke="#9E209E" stroke-width="3.2" fill="none"/>
<path d="M1616,649.3 l12,13 m0,-13 l-12,13 M1622,648.3 v15" stroke="#8A008A" stroke-width="2.6" fill="none"/><rect x="1618.5" y="651.8" width="7" height="8" fill="#8A008A"/>
<path d="M1585,730.3 H1659.3" stroke="#9A2020" stroke-width="3.2" fill="none"/>
<path d="M1622,721.7 l7.5,8.6 l-7.5,8.6 l-7.5,-8.6z" fill="#850000" stroke="#850000" stroke-width="1" stroke-linejoin="round"/>
<path d="M1585,804.8 H1659.3" stroke="#10A09C" stroke-width="4.0" fill="none"/>
<path d="M1622,797.3 v15" stroke="#009090" stroke-width="3.4" fill="none"/>
<path d="M1585,879.3 H1659.3" stroke="#2A2AFF" stroke-width="4.0" fill="none"/>
<rect x="1621" y="875.7" width="12" height="5.5" fill="#0000FF"/>
<path d="M1585,953.8 H1659.3" stroke="#00CCFF" stroke-width="4.0" fill="none"/>
<rect x="1612.5" y="950.2" width="20" height="5.5" fill="#00CCFF"/>
<path d="M1585,1028.3 H1659.3" stroke="#C6F9FF" stroke-width="3.2" fill="none"/>
<path d="M1622,1018.3 l7.2,10.0 l-7.2,10.0 l-7.2,-10.0z" fill="#A6F4FF"/>
<path d="M1585,1102.8 H1659.3" stroke="#C6FADA" stroke-width="3.2" fill="none"/>
<rect x="1614" y="1094" width="16" height="16" fill="#A8F6C2"/>
<path d="M1585,1177.3 H1659.3" stroke="#FFFF99" stroke-width="3.2" fill="none"/>
<path d="M1622,1167.8 l10,19 h-20z" fill="#FFFF7A"/>
<path d="M1585,1251.8 H1659.3" stroke="#99CCFF" stroke-width="3.2" fill="none"/>
<path d="M1615.5,1245.3 l13,13 m0,-13 l-13,13" stroke="#7CC4FF" stroke-width="3" fill="none"/>
<path d="M1585,1326.3 H1659.3" stroke="#FF9FCF" stroke-width="3.2" fill="none"/>
<path d="M1616,1319.8 l12,13 m0,-13 l-12,13 M1622,1318.8 v15" stroke="#FF88C0" stroke-width="2.6" fill="none"/><rect x="1618.5" y="1322.3" width="7" height="8" fill="#FF88C0"/>
<path d="M1585,1400.8 H1659.3" stroke="#D8A0FF" stroke-width="3.2" fill="none"/>
<path d="M1622,1392.2 l7.5,8.6 l-7.5,8.6 l-7.5,-8.6z" fill="#D48CFF" stroke="#D48CFF" stroke-width="1" stroke-linejoin="round"/>
<path d="M1585,1475.3 H1659.3" stroke="#FFCC9C" stroke-width="3.2" fill="none"/>
<path d="M1622,1467.8 v15" stroke="#FFC592" stroke-width="3.4" fill="none"/>
<path d="M1585,1549.8 H1659.3" stroke="#3366FF" stroke-width="4.0" fill="none"/>
<rect x="1621" y="1546.2" width="12" height="5.5" fill="#3366FF"/>
<path d="M1585,1624.3 H1659.3" stroke="#28D0D0" stroke-width="4.0" fill="none"/>
<rect x="1612.5" y="1620.7" width="20" height="5.5" fill="#08C8C8"/>
<path d="M1585,1698.8 H1659.3" stroke="#90CC10" stroke-width="3.2" fill="none"/>
<path d="M1622,1688.8 l7.2,10.0 l-7.2,10.0 l-7.2,-10.0z" fill="#88CC08"/>
<path d="M1585,1773.3 H1659.3" stroke="#FFCC00" stroke-width="3.2" fill="none"/>
<rect x="1614" y="1764.5" width="16" height="16" fill="#FFCC00"/>
</g>
<g>
<text x="1673" y="372.8">SO</text>
<text x="1673" y="447.3">SOS</text>
<text x="1673" y="521.8">SC</text>
<text x="1673" y="596.3">SCS</text>
<text x="1673" y="670.8">BO</text>
<text x="1673" y="745.3">BOS</text>
<text x="1673" y="819.8">BC</text>
<text x="1673" y="894.3">BCS</text>
<text x="1673" y="968.8">CO</text>
<text x="1673" y="1043.3">COS</text>
<text x="1673" y="1117.8">CC</text>
<text x="1673" y="1192.3">CCS</text>
<text x="1673" y="1266.8">OO</text>
<text x="1673" y="1341.3">OOS</text>
<text x="1673" y="1415.8">OC</text>
<text x="1673" y="1490.3">OCS</text>
<text x="1673" y="1564.8">WO</text>
<text x="1673" y="1639.3">WOS</text>
<text x="1673" y="1713.8">WC</text>
<text x="1673" y="1788.3">WCS</text>
</g>
</svg></body></html>
